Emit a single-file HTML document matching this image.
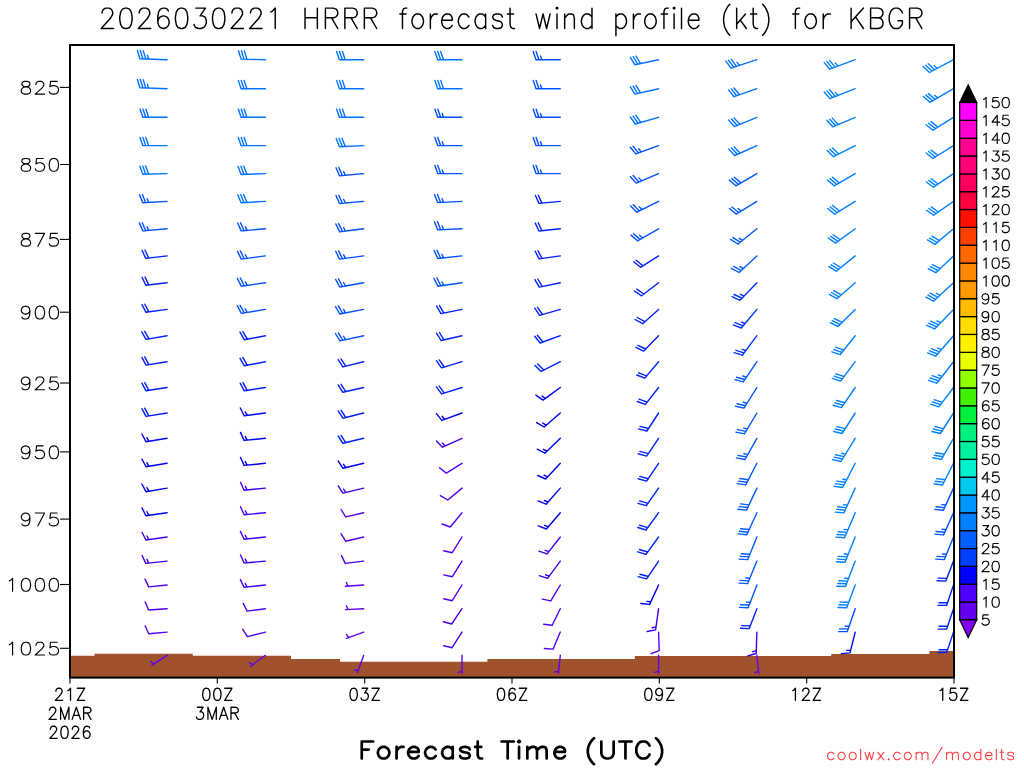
<!DOCTYPE html><html><head><meta charset="utf-8"><style>html,body{margin:0;padding:0;background:#fff;}svg{display:block;}text{font-family:"Liberation Sans",sans-serif;}</style></head><body>
<svg width="1024" height="768" viewBox="0 0 1024 768">
<rect x="0" y="0" width="1024" height="768" fill="#fff"/>
<polygon points="70,655.8 94.6,655.8 94.6,653.7 143.7,653.7 143.7,653.7 192.8,653.7 192.8,655.8 241.9,655.8 241.9,655.8 291,655.8 291,659 340.1,659 340.1,661.7 389.2,661.7 389.2,661.7 438.3,661.7 438.3,661.7 487.4,661.7 487.4,659 536.6,659 536.6,659 585.7,659 585.7,659 634.8,659 634.8,656 683.9,656 683.9,656 733,656 733,656 782.1,656 782.1,656 831.2,656 831.2,654 880.3,654 880.3,654 929.4,654 929.4,651 954,651 954,677.6 70,677.6" fill="#a0522d"/>
<path d="M167.1 59.7L139.9 58.7 M148.6 59L147.4 55.2 M145.7 58.9L143.2 50.6 M142.8 58.8L140.3 50.5 M139.9 58.7L137.4 50.4" stroke="#0072ff" stroke-width="1.4" fill="none" stroke-linecap="round" stroke-linejoin="round"/>
<path d="M167.1 88.7L139.9 87.7 M148.6 88L147.4 84.2 M145.7 87.9L143.2 79.6 M142.8 87.8L140.3 79.5 M139.9 87.7L137.4 79.4" stroke="#0072ff" stroke-width="1.4" fill="none" stroke-linecap="round" stroke-linejoin="round"/>
<path d="M167.1 117.3L142.8 117.3 M148.6 117.3L145.8 109.1 M145.7 117.3L142.9 109.1 M142.8 117.3L140 109.1" stroke="#0072ff" stroke-width="1.4" fill="none" stroke-linecap="round" stroke-linejoin="round"/>
<path d="M167.1 145.6L142.8 145.6 M148.6 145.6L145.8 137.4 M145.7 145.6L142.9 137.4 M142.8 145.6L140 137.4" stroke="#0072ff" stroke-width="1.4" fill="none" stroke-linecap="round" stroke-linejoin="round"/>
<path d="M167.1 173.6L142.8 174.3 M148.6 174.1L145.6 166 M145.7 174.2L142.7 166.1 M142.8 174.3L139.8 166.1" stroke="#0072ff" stroke-width="1.4" fill="none" stroke-linecap="round" stroke-linejoin="round"/>
<path d="M167.1 201.4L142.8 202.8 M148.6 202.5L147.1 198.8 M145.7 202.7L142.4 194.6 M142.8 202.8L139.5 194.8" stroke="#0050ff" stroke-width="1.4" fill="none" stroke-linecap="round" stroke-linejoin="round"/>
<path d="M167.1 228.8L142.9 230.9 M148.7 230.4L147 226.7 M145.8 230.7L142.2 222.7 M142.9 230.9L139.4 223" stroke="#0050ff" stroke-width="1.4" fill="none" stroke-linecap="round" stroke-linejoin="round"/>
<path d="M167.1 255.9L145.8 258.4 M148.7 258L145 250.2 M145.8 258.4L142.1 250.5" stroke="#0020ff" stroke-width="1.4" fill="none" stroke-linecap="round" stroke-linejoin="round"/>
<path d="M167.1 282.8L145.8 285.2 M148.7 284.9L145 277 M145.8 285.2L142.1 277.4" stroke="#0020ff" stroke-width="1.4" fill="none" stroke-linecap="round" stroke-linejoin="round"/>
<path d="M167.1 309.4L145.9 312.3 M148.8 311.9L144.8 304.2 M145.9 312.3L142 304.6" stroke="#0020ff" stroke-width="1.4" fill="none" stroke-linecap="round" stroke-linejoin="round"/>
<path d="M167.1 335.7L146 339.4 M148.9 338.9L144.7 331.3 M146 339.4L141.8 331.8" stroke="#0020ff" stroke-width="1.4" fill="none" stroke-linecap="round" stroke-linejoin="round"/>
<path d="M167.1 361.7L146 365.1 M148.8 364.6L144.7 356.9 M146 365.1L141.9 357.4" stroke="#0020ff" stroke-width="1.4" fill="none" stroke-linecap="round" stroke-linejoin="round"/>
<path d="M167.1 387.5L146 390.8 M148.8 390.4L144.7 382.7 M146 390.8L141.9 383.2" stroke="#0020ff" stroke-width="1.4" fill="none" stroke-linecap="round" stroke-linejoin="round"/>
<path d="M167.1 413L146 416.4 M148.8 415.9L144.7 408.2 M146 416.4L141.9 408.7" stroke="#0020ff" stroke-width="1.4" fill="none" stroke-linecap="round" stroke-linejoin="round"/>
<path d="M167.1 438.3L146 441.7 M148.8 441.2L146.9 437.7 M146 441.7L141.9 434" stroke="#0000f0" stroke-width="1.4" fill="none" stroke-linecap="round" stroke-linejoin="round"/>
<path d="M167.1 463.3L146 466.7 M148.8 466.2L146.9 462.7 M146 466.7L141.9 459" stroke="#0000f0" stroke-width="1.4" fill="none" stroke-linecap="round" stroke-linejoin="round"/>
<path d="M167.1 488.1L146 491.7 M148.9 491.2L146.9 487.7 M146 491.7L141.8 484" stroke="#0000f0" stroke-width="1.4" fill="none" stroke-linecap="round" stroke-linejoin="round"/>
<path d="M167.1 512.7L145.9 515.7 M148.8 515.3L147 511.7 M145.9 515.7L142 507.9" stroke="#0000f0" stroke-width="1.4" fill="none" stroke-linecap="round" stroke-linejoin="round"/>
<path d="M167.1 537L145.9 540 M148.8 539.6L147 536 M145.9 540L142 532.3" stroke="#4000f0" stroke-width="1.4" fill="none" stroke-linecap="round" stroke-linejoin="round"/>
<path d="M167.1 561.1L145.8 563.4 M148.7 563.1L147 559.4 M145.8 563.4L142.1 555.5" stroke="#4000f0" stroke-width="1.4" fill="none" stroke-linecap="round" stroke-linejoin="round"/>
<path d="M167.1 585L148.7 586.9 M148.7 586.9L145 579.1" stroke="#5000f0" stroke-width="1.4" fill="none" stroke-linecap="round" stroke-linejoin="round"/>
<path d="M167.1 608.7L148.6 610 M148.6 610L145.2 601.9" stroke="#5000f0" stroke-width="1.4" fill="none" stroke-linecap="round" stroke-linejoin="round"/>
<path d="M167.1 632.1L148.7 633.7 M148.7 633.7L145.1 625.8" stroke="#5000f0" stroke-width="1.4" fill="none" stroke-linecap="round" stroke-linejoin="round"/>
<path d="M167.1 655.3L151.8 665.3 M153.8 663.9L150.7 661.5" stroke="#6000f0" stroke-width="1.4" fill="none" stroke-linecap="round" stroke-linejoin="round"/>
<path d="M265.4 59.7L241.1 59.1 M246.9 59.2L244.3 50.9 M244 59.1L241.4 50.8 M241.1 59.1L238.5 50.8" stroke="#0072ff" stroke-width="1.4" fill="none" stroke-linecap="round" stroke-linejoin="round"/>
<path d="M265.4 88.7L241.1 88.7 M246.9 88.7L244.1 80.4 M244 88.7L241.2 80.4 M241.1 88.7L238.3 80.4" stroke="#0072ff" stroke-width="1.4" fill="none" stroke-linecap="round" stroke-linejoin="round"/>
<path d="M265.4 117.3L241.1 117.3 M246.9 117.3L244.1 109.1 M244 117.3L241.2 109.1 M241.1 117.3L238.3 109.1" stroke="#0072ff" stroke-width="1.4" fill="none" stroke-linecap="round" stroke-linejoin="round"/>
<path d="M265.4 145.6L241.1 145.6 M246.9 145.6L244.1 137.4 M244 145.6L241.2 137.4 M241.1 145.6L238.3 137.4" stroke="#0072ff" stroke-width="1.4" fill="none" stroke-linecap="round" stroke-linejoin="round"/>
<path d="M265.4 173.6L241.1 174.5 M246.9 174.3L243.8 166.2 M244 174.4L240.9 166.3 M241.1 174.5L238 166.4" stroke="#0072ff" stroke-width="1.4" fill="none" stroke-linecap="round" stroke-linejoin="round"/>
<path d="M265.4 201.4L241.1 202.8 M246.9 202.5L243.6 194.5 M244 202.7L240.7 194.6 M241.1 202.8L237.8 194.8" stroke="#0072ff" stroke-width="1.4" fill="none" stroke-linecap="round" stroke-linejoin="round"/>
<path d="M265.4 228.8L241.2 230.9 M247 230.4L245.3 226.7 M244.1 230.7L240.5 222.7 M241.2 230.9L237.7 223" stroke="#0050ff" stroke-width="1.4" fill="none" stroke-linecap="round" stroke-linejoin="round"/>
<path d="M265.4 255.9L241.3 259.1 M247.1 258.3L245.3 254.8 M244.2 258.7L240.3 250.9 M241.3 259.1L237.4 251.3" stroke="#0050ff" stroke-width="1.4" fill="none" stroke-linecap="round" stroke-linejoin="round"/>
<path d="M265.4 282.8L241.3 286.2 M247.1 285.4L245.3 281.8 M244.2 285.8L240.3 278 M241.3 286.2L237.4 278.4" stroke="#0050ff" stroke-width="1.4" fill="none" stroke-linecap="round" stroke-linejoin="round"/>
<path d="M265.4 309.4L241.4 313.4 M247.2 312.4L245.2 308.9 M244.3 312.9L240.1 305.3 M241.4 313.4L237.3 305.7" stroke="#0050ff" stroke-width="1.4" fill="none" stroke-linecap="round" stroke-linejoin="round"/>
<path d="M265.4 335.7L244.4 339.8 M247.2 339.2L242.9 331.7 M244.4 339.8L240 332.2" stroke="#0020ff" stroke-width="1.4" fill="none" stroke-linecap="round" stroke-linejoin="round"/>
<path d="M265.4 361.7L244.4 365.8 M247.2 365.2L242.9 357.7 M244.4 365.8L240 358.3" stroke="#0020ff" stroke-width="1.4" fill="none" stroke-linecap="round" stroke-linejoin="round"/>
<path d="M265.4 387.5L244.3 390.8 M247.1 390.4L243 382.7 M244.3 390.8L240.2 383.2" stroke="#0020ff" stroke-width="1.4" fill="none" stroke-linecap="round" stroke-linejoin="round"/>
<path d="M265.4 413L244.2 415.8 M247.1 415.4L245.3 411.9 M244.2 415.8L240.3 408" stroke="#0000f0" stroke-width="1.4" fill="none" stroke-linecap="round" stroke-linejoin="round"/>
<path d="M265.4 438.3L244.1 440.4 M247 440.1L245.3 436.4 M244.1 440.4L240.5 432.4" stroke="#0000f0" stroke-width="1.4" fill="none" stroke-linecap="round" stroke-linejoin="round"/>
<path d="M265.4 463.3L244.1 465.4 M247 465.1L245.3 461.5 M244.1 465.4L240.5 457.5" stroke="#0000f0" stroke-width="1.4" fill="none" stroke-linecap="round" stroke-linejoin="round"/>
<path d="M265.4 488.1L244.1 490.2 M247 489.9L245.3 486.3 M244.1 490.2L240.5 482.3" stroke="#4000f0" stroke-width="1.4" fill="none" stroke-linecap="round" stroke-linejoin="round"/>
<path d="M265.4 512.7L244.1 514.8 M247 514.5L245.3 510.8 M244.1 514.8L240.5 506.8" stroke="#4000f0" stroke-width="1.4" fill="none" stroke-linecap="round" stroke-linejoin="round"/>
<path d="M265.4 537L244.1 539.3 M247 539L245.3 535.3 M244.1 539.3L240.4 531.4" stroke="#4000f0" stroke-width="1.4" fill="none" stroke-linecap="round" stroke-linejoin="round"/>
<path d="M265.4 561.1L244.1 563 M247 562.7L245.3 559.1 M244.1 563L240.5 555" stroke="#4000f0" stroke-width="1.4" fill="none" stroke-linecap="round" stroke-linejoin="round"/>
<path d="M265.4 585L244.1 587.4 M247 587.1L245.3 583.5 M244.1 587.4L240.4 579.6" stroke="#4000f0" stroke-width="1.4" fill="none" stroke-linecap="round" stroke-linejoin="round"/>
<path d="M265.4 608.7L247.1 611.1 M247.1 611.1L243.2 603.3" stroke="#5000f0" stroke-width="1.4" fill="none" stroke-linecap="round" stroke-linejoin="round"/>
<path d="M265.4 632.1L247.4 636.6 M247.4 636.6L242.7 629.3" stroke="#5000f0" stroke-width="1.4" fill="none" stroke-linecap="round" stroke-linejoin="round"/>
<path d="M265.4 655.3L250.7 666.2 M252.7 664.7L249.4 662.5" stroke="#6000f0" stroke-width="1.4" fill="none" stroke-linecap="round" stroke-linejoin="round"/>
<path d="M363.7 59.7L339.4 59.7 M345.2 59.7L342.4 51.5 M342.3 59.7L339.5 51.5 M339.4 59.7L336.6 51.5" stroke="#0072ff" stroke-width="1.4" fill="none" stroke-linecap="round" stroke-linejoin="round"/>
<path d="M363.7 88.7L339.4 88.7 M345.2 88.7L342.4 80.4 M342.3 88.7L339.5 80.4 M339.4 88.7L336.6 80.4" stroke="#0072ff" stroke-width="1.4" fill="none" stroke-linecap="round" stroke-linejoin="round"/>
<path d="M363.7 117.3L339.4 117.3 M345.2 117.3L342.4 109.1 M342.3 117.3L339.5 109.1 M339.4 117.3L336.6 109.1" stroke="#0072ff" stroke-width="1.4" fill="none" stroke-linecap="round" stroke-linejoin="round"/>
<path d="M363.7 145.6L339.4 146.7 M345.2 146.4L342 138.3 M342.3 146.6L339.1 138.5 M339.4 146.7L336.2 138.6" stroke="#0072ff" stroke-width="1.4" fill="none" stroke-linecap="round" stroke-linejoin="round"/>
<path d="M363.7 173.6L339.5 175.8 M345.3 175.3L343.6 171.6 M342.4 175.5L338.8 167.6 M339.5 175.8L336 167.8" stroke="#0050ff" stroke-width="1.4" fill="none" stroke-linecap="round" stroke-linejoin="round"/>
<path d="M363.7 201.4L339.5 203.5 M345.3 203L343.6 199.3 M342.4 203.2L338.8 195.3 M339.5 203.5L336 195.5" stroke="#0050ff" stroke-width="1.4" fill="none" stroke-linecap="round" stroke-linejoin="round"/>
<path d="M363.7 228.8L339.6 231.8 M345.3 231L343.6 227.5 M342.5 231.4L338.6 223.6 M339.6 231.8L335.8 223.9" stroke="#0050ff" stroke-width="1.4" fill="none" stroke-linecap="round" stroke-linejoin="round"/>
<path d="M363.7 255.9L339.6 259.1 M345.4 258.3L343.6 254.8 M342.5 258.7L338.6 250.9 M339.6 259.1L335.7 251.3" stroke="#0050ff" stroke-width="1.4" fill="none" stroke-linecap="round" stroke-linejoin="round"/>
<path d="M363.7 282.8L339.8 287 M345.5 286L343.5 282.5 M342.6 286.5L338.4 278.9 M339.8 287L335.6 279.4" stroke="#0050ff" stroke-width="1.4" fill="none" stroke-linecap="round" stroke-linejoin="round"/>
<path d="M363.7 309.4L339.8 314 M345.5 312.9L343.5 309.4 M342.7 313.4L338.3 305.9 M339.8 314L335.5 306.5" stroke="#0050ff" stroke-width="1.4" fill="none" stroke-linecap="round" stroke-linejoin="round"/>
<path d="M363.7 335.7L340 340.9 M345.6 339.7L343.5 336.3 M342.8 340.3L338.3 332.9 M340 340.9L335.4 333.5" stroke="#0050ff" stroke-width="1.4" fill="none" stroke-linecap="round" stroke-linejoin="round"/>
<path d="M363.7 361.7L342.9 366.9 M345.7 366.2L341 358.9 M342.9 366.9L338.2 359.6" stroke="#0020ff" stroke-width="1.4" fill="none" stroke-linecap="round" stroke-linejoin="round"/>
<path d="M363.7 387.5L342.8 392.3 M345.7 391.7L341.1 384.3 M342.8 392.3L338.2 384.9" stroke="#0020ff" stroke-width="1.4" fill="none" stroke-linecap="round" stroke-linejoin="round"/>
<path d="M363.7 413L342.9 418.2 M345.7 417.5L341 410.2 M342.9 418.2L338.2 410.9" stroke="#0020ff" stroke-width="1.4" fill="none" stroke-linecap="round" stroke-linejoin="round"/>
<path d="M363.7 438.3L342.9 443.3 M345.7 442.6L341 435.3 M342.9 443.3L338.2 436" stroke="#0020ff" stroke-width="1.4" fill="none" stroke-linecap="round" stroke-linejoin="round"/>
<path d="M363.7 463.3L342.9 468.3 M345.7 467.7L343.6 464.3 M342.9 468.3L338.2 461" stroke="#0000f0" stroke-width="1.4" fill="none" stroke-linecap="round" stroke-linejoin="round"/>
<path d="M363.7 488.1L342.9 493.1 M345.7 492.5L343.6 489.1 M342.9 493.1L338.2 485.8" stroke="#4000f0" stroke-width="1.4" fill="none" stroke-linecap="round" stroke-linejoin="round"/>
<path d="M363.7 512.7L345.7 516.9 M345.7 516.9L341.1 509.5" stroke="#5000f0" stroke-width="1.4" fill="none" stroke-linecap="round" stroke-linejoin="round"/>
<path d="M363.7 537L345.7 541.2 M345.7 541.2L341.1 533.8" stroke="#5000f0" stroke-width="1.4" fill="none" stroke-linecap="round" stroke-linejoin="round"/>
<path d="M363.7 561.1L345.3 563.4 M345.3 563.4L341.5 555.6" stroke="#5000f0" stroke-width="1.4" fill="none" stroke-linecap="round" stroke-linejoin="round"/>
<path d="M363.7 585L345.4 586.3 M347.9 586.1L346.4 582.4" stroke="#6000f0" stroke-width="1.4" fill="none" stroke-linecap="round" stroke-linejoin="round"/>
<path d="M363.7 608.7L345.4 609.6 M347.9 609.5L346.4 605.8" stroke="#6000f0" stroke-width="1.4" fill="none" stroke-linecap="round" stroke-linejoin="round"/>
<path d="M363.7 632.1L346.5 638.4 M348.9 637.5L346.3 634.4" stroke="#6000f0" stroke-width="1.4" fill="none" stroke-linecap="round" stroke-linejoin="round"/>
<path d="M363.7 655.3L357.4 672.5 M358.3 670.2L354.3 670.1" stroke="#6000f0" stroke-width="1.4" fill="none" stroke-linecap="round" stroke-linejoin="round"/>
<path d="M462 59.7L437.7 59.7 M443.5 59.7L440.7 51.5 M440.6 59.7L437.8 51.5 M437.7 59.7L434.9 51.5" stroke="#0072ff" stroke-width="1.4" fill="none" stroke-linecap="round" stroke-linejoin="round"/>
<path d="M462 88.7L437.7 88.7 M443.5 88.7L440.7 80.4 M440.6 88.7L437.8 80.4 M437.7 88.7L434.9 80.4" stroke="#0072ff" stroke-width="1.4" fill="none" stroke-linecap="round" stroke-linejoin="round"/>
<path d="M462 117.3L437.7 117.3 M443.5 117.3L442.2 113.5 M440.6 117.3L437.8 109.1 M437.7 117.3L434.9 109.1" stroke="#0050ff" stroke-width="1.4" fill="none" stroke-linecap="round" stroke-linejoin="round"/>
<path d="M462 145.6L437.7 145.6 M443.5 145.6L442.2 141.8 M440.6 145.6L437.8 137.4 M437.7 145.6L434.9 137.4" stroke="#0050ff" stroke-width="1.4" fill="none" stroke-linecap="round" stroke-linejoin="round"/>
<path d="M462 173.6L437.7 173.6 M443.5 173.6L442.2 169.9 M440.6 173.6L437.8 165.4 M437.7 173.6L434.9 165.4" stroke="#0050ff" stroke-width="1.4" fill="none" stroke-linecap="round" stroke-linejoin="round"/>
<path d="M462 201.4L437.7 202.6 M443.5 202.3L442 198.6 M440.6 202.5L437.4 194.4 M437.7 202.6L434.5 194.6" stroke="#0050ff" stroke-width="1.4" fill="none" stroke-linecap="round" stroke-linejoin="round"/>
<path d="M462 228.8L437.7 229.9 M443.5 229.6L442.1 225.9 M440.6 229.7L437.4 221.6 M437.7 229.9L434.5 221.8" stroke="#0050ff" stroke-width="1.4" fill="none" stroke-linecap="round" stroke-linejoin="round"/>
<path d="M462 255.9L437.8 258.5 M443.6 257.9L441.9 254.2 M440.7 258.2L437 250.3 M437.8 258.5L434.2 250.6" stroke="#0050ff" stroke-width="1.4" fill="none" stroke-linecap="round" stroke-linejoin="round"/>
<path d="M462 282.8L437.9 286.2 M443.7 285.4L441.9 281.8 M440.8 285.8L436.9 278 M437.9 286.2L434 278.4" stroke="#0050ff" stroke-width="1.4" fill="none" stroke-linecap="round" stroke-linejoin="round"/>
<path d="M462 309.4L441 313.6 M443.9 313.1L439.5 305.6 M441 313.6L436.6 306.1" stroke="#0020ff" stroke-width="1.4" fill="none" stroke-linecap="round" stroke-linejoin="round"/>
<path d="M462 335.7L441.1 340.5 M444 339.8L439.4 332.5 M441.1 340.5L436.5 333.1" stroke="#0020ff" stroke-width="1.4" fill="none" stroke-linecap="round" stroke-linejoin="round"/>
<path d="M462 361.7L441.5 367.8 M444.3 367L439.2 359.9 M441.5 367.8L436.4 360.7" stroke="#0020ff" stroke-width="1.4" fill="none" stroke-linecap="round" stroke-linejoin="round"/>
<path d="M462 387.5L441.6 393.9 M444.4 393.1L439.2 386.1 M441.6 393.9L436.4 386.9" stroke="#0020ff" stroke-width="1.4" fill="none" stroke-linecap="round" stroke-linejoin="round"/>
<path d="M462 413L441.9 420.4 M444.6 419.4L442.1 416.3 M441.9 420.4L436.4 413.6" stroke="#0000f0" stroke-width="1.4" fill="none" stroke-linecap="round" stroke-linejoin="round"/>
<path d="M462 438.3L442.5 447.2 M445.2 446L442.4 443.1 M442.5 447.2L436.5 440.9" stroke="#4000f0" stroke-width="1.4" fill="none" stroke-linecap="round" stroke-linejoin="round"/>
<path d="M462 463.3L446.3 473.1 M446.3 473.1L439.5 467.7" stroke="#5000f0" stroke-width="1.4" fill="none" stroke-linecap="round" stroke-linejoin="round"/>
<path d="M462 488.1L447.8 500 M447.8 500L440.4 495.6" stroke="#5000f0" stroke-width="1.4" fill="none" stroke-linecap="round" stroke-linejoin="round"/>
<path d="M462 512.7L450.3 527 M450.3 527L442.1 524" stroke="#5000f0" stroke-width="1.4" fill="none" stroke-linecap="round" stroke-linejoin="round"/>
<path d="M462 537L452.2 552.7 M452.2 552.7L443.7 550.8" stroke="#5000f0" stroke-width="1.4" fill="none" stroke-linecap="round" stroke-linejoin="round"/>
<path d="M462 561.1L452.2 576.8 M452.2 576.8L443.7 574.9" stroke="#5000f0" stroke-width="1.4" fill="none" stroke-linecap="round" stroke-linejoin="round"/>
<path d="M462 585L452.2 600.7 M452.2 600.7L443.7 598.7" stroke="#5000f0" stroke-width="1.4" fill="none" stroke-linecap="round" stroke-linejoin="round"/>
<path d="M462 608.7L451.7 624 M451.7 624L443.3 621.8" stroke="#5000f0" stroke-width="1.4" fill="none" stroke-linecap="round" stroke-linejoin="round"/>
<path d="M462 632.1L452.1 647.7 M452.1 647.7L443.6 645.7" stroke="#5000f0" stroke-width="1.4" fill="none" stroke-linecap="round" stroke-linejoin="round"/>
<path d="M462 655.3L462 673.6 M462 671.1L458.2 672.4" stroke="#6000f0" stroke-width="1.4" fill="none" stroke-linecap="round" stroke-linejoin="round"/>
<path d="M560.3 59.7L536 59.7 M541.8 59.7L540.5 55.9 M538.9 59.7L536.1 51.5 M536 59.7L533.2 51.5" stroke="#0050ff" stroke-width="1.4" fill="none" stroke-linecap="round" stroke-linejoin="round"/>
<path d="M560.3 88.7L536 88.7 M541.8 88.7L540.5 84.9 M538.9 88.7L536.1 80.4 M536 88.7L533.2 80.4" stroke="#0050ff" stroke-width="1.4" fill="none" stroke-linecap="round" stroke-linejoin="round"/>
<path d="M560.3 117.3L536 117.3 M541.8 117.3L540.5 113.5 M538.9 117.3L536.1 109.1 M536 117.3L533.2 109.1" stroke="#0050ff" stroke-width="1.4" fill="none" stroke-linecap="round" stroke-linejoin="round"/>
<path d="M560.3 145.6L536 145.6 M541.8 145.6L540.5 141.8 M538.9 145.6L536.1 137.4 M536 145.6L533.2 137.4" stroke="#0050ff" stroke-width="1.4" fill="none" stroke-linecap="round" stroke-linejoin="round"/>
<path d="M560.3 173.6L536 173.6 M541.8 173.6L540.5 169.9 M538.9 173.6L536.1 165.4 M536 173.6L533.2 165.4" stroke="#0050ff" stroke-width="1.4" fill="none" stroke-linecap="round" stroke-linejoin="round"/>
<path d="M560.3 201.4L539 203.4 M541.9 203.1L538.3 195.2 M539 203.4L535.4 195.5" stroke="#0020ff" stroke-width="1.4" fill="none" stroke-linecap="round" stroke-linejoin="round"/>
<path d="M560.3 228.8L539 231 M541.9 230.7L538.2 222.8 M539 231L535.3 223.1" stroke="#0020ff" stroke-width="1.4" fill="none" stroke-linecap="round" stroke-linejoin="round"/>
<path d="M560.3 255.9L539.1 258.9 M542 258.5L538 250.8 M539.1 258.9L535.2 251.2" stroke="#0020ff" stroke-width="1.4" fill="none" stroke-linecap="round" stroke-linejoin="round"/>
<path d="M560.3 282.8L539.3 287.1 M542.2 286.5L537.8 279 M539.3 287.1L534.9 279.6" stroke="#0020ff" stroke-width="1.4" fill="none" stroke-linecap="round" stroke-linejoin="round"/>
<path d="M560.3 309.4L539.7 315.3 M542.5 314.5L537.5 307.3 M539.7 315.3L534.7 308.1" stroke="#0020ff" stroke-width="1.4" fill="none" stroke-linecap="round" stroke-linejoin="round"/>
<path d="M560.3 335.7L540.2 343 M542.9 342L537.4 335.2 M540.2 343L534.7 336.2" stroke="#0020ff" stroke-width="1.4" fill="none" stroke-linecap="round" stroke-linejoin="round"/>
<path d="M560.3 361.7L541.2 371.4 M543.8 370.1L537.6 364.1 M541.2 371.4L535 365.4" stroke="#0020ff" stroke-width="1.4" fill="none" stroke-linecap="round" stroke-linejoin="round"/>
<path d="M560.3 387.5L543 400.1 M545.3 398.4L542.1 396.1 M543 400.1L535.9 395.1" stroke="#0000f0" stroke-width="1.4" fill="none" stroke-linecap="round" stroke-linejoin="round"/>
<path d="M560.3 413L544.1 427 M546.3 425.1L542.8 423.1 M544.1 427L536.6 422.6" stroke="#0000f0" stroke-width="1.4" fill="none" stroke-linecap="round" stroke-linejoin="round"/>
<path d="M560.3 438.3L544.9 453.2 M547 451.2L543.4 449.3 M544.9 453.2L537.2 449.2" stroke="#0000f0" stroke-width="1.4" fill="none" stroke-linecap="round" stroke-linejoin="round"/>
<path d="M560.3 463.3L545.7 479 M547.7 476.9L544 475.2 M545.7 479L537.8 475.5" stroke="#0000f0" stroke-width="1.4" fill="none" stroke-linecap="round" stroke-linejoin="round"/>
<path d="M560.3 488.1L546.1 504.2 M548.1 502L544.4 500.5 M546.1 504.2L538.1 500.9" stroke="#0000f0" stroke-width="1.4" fill="none" stroke-linecap="round" stroke-linejoin="round"/>
<path d="M560.3 512.7L546.4 529 M548.3 526.8L544.6 525.3 M546.4 529L538.3 525.8" stroke="#0000f0" stroke-width="1.4" fill="none" stroke-linecap="round" stroke-linejoin="round"/>
<path d="M560.3 537L547.1 553.9 M548.9 551.6L545.1 550.3 M547.1 553.9L538.9 551.1" stroke="#4000f0" stroke-width="1.4" fill="none" stroke-linecap="round" stroke-linejoin="round"/>
<path d="M560.3 561.1L547.5 578.3 M549.3 576L545.5 574.8 M547.5 578.3L539.2 575.7" stroke="#4000f0" stroke-width="1.4" fill="none" stroke-linecap="round" stroke-linejoin="round"/>
<path d="M560.3 585L550.8 600.9 M550.8 600.9L542.3 599.1" stroke="#5000f0" stroke-width="1.4" fill="none" stroke-linecap="round" stroke-linejoin="round"/>
<path d="M560.3 608.7L552.2 625.3 M552.2 625.3L543.6 624.2" stroke="#5000f0" stroke-width="1.4" fill="none" stroke-linecap="round" stroke-linejoin="round"/>
<path d="M560.3 632.1L553.1 649.1 M553.1 649.1L544.4 648.5" stroke="#5000f0" stroke-width="1.4" fill="none" stroke-linecap="round" stroke-linejoin="round"/>
<path d="M560.3 655.3L558.4 673.5 M558.6 671.1L554.8 672" stroke="#6000f0" stroke-width="1.4" fill="none" stroke-linecap="round" stroke-linejoin="round"/>
<path d="M658.6 59.7L634.8 64.7 M640.5 63.5L636 56.1 M637.7 64.1L633.2 56.7 M634.8 64.7L630.4 57.3" stroke="#0072ff" stroke-width="1.4" fill="none" stroke-linecap="round" stroke-linejoin="round"/>
<path d="M658.6 88.7L634.9 94.1 M640.6 92.8L636 85.4 M637.7 93.5L633.1 86.1 M634.9 94.1L630.3 86.7" stroke="#0072ff" stroke-width="1.4" fill="none" stroke-linecap="round" stroke-linejoin="round"/>
<path d="M658.6 117.3L635.2 124 M640.8 122.4L635.8 115.3 M638 123.2L633 116.1 M635.2 124L630.3 116.9" stroke="#0072ff" stroke-width="1.4" fill="none" stroke-linecap="round" stroke-linejoin="round"/>
<path d="M658.6 145.6L635.8 153.9 M641.2 152L638.7 148.8 M638.5 152.9L633 146.2 M635.8 153.9L630.3 147.2" stroke="#0050ff" stroke-width="1.4" fill="none" stroke-linecap="round" stroke-linejoin="round"/>
<path d="M658.6 173.6L636.2 183.1 M641.6 180.9L638.9 177.9 M638.9 182L633.1 175.5 M636.2 183.1L630.4 176.7" stroke="#0050ff" stroke-width="1.4" fill="none" stroke-linecap="round" stroke-linejoin="round"/>
<path d="M658.6 201.4L636.9 212.2 M642 209.6L639.2 206.8 M639.4 210.9L633.2 204.8 M636.9 212.2L630.6 206.1" stroke="#0050ff" stroke-width="1.4" fill="none" stroke-linecap="round" stroke-linejoin="round"/>
<path d="M658.6 228.8L637.5 240.8 M642.5 238L639.5 235.3 M640 239.4L633.5 233.7 M637.5 240.8L631 235.1" stroke="#0050ff" stroke-width="1.4" fill="none" stroke-linecap="round" stroke-linejoin="round"/>
<path d="M658.6 255.9L640.5 267.3 M642.9 265.7L636.1 260.3 M640.5 267.3L633.7 261.8" stroke="#0020ff" stroke-width="1.4" fill="none" stroke-linecap="round" stroke-linejoin="round"/>
<path d="M658.6 282.8L641.6 295.8 M643.9 294L636.7 289.2 M641.6 295.8L634.4 291" stroke="#0020ff" stroke-width="1.4" fill="none" stroke-linecap="round" stroke-linejoin="round"/>
<path d="M658.6 309.4L642.7 323.7 M644.9 321.7L637.2 317.5 M642.7 323.7L635.1 319.5" stroke="#0020ff" stroke-width="1.4" fill="none" stroke-linecap="round" stroke-linejoin="round"/>
<path d="M658.6 335.7L643.7 351.1 M645.7 349L637.9 345.3 M643.7 351.1L635.8 347.4" stroke="#0020ff" stroke-width="1.4" fill="none" stroke-linecap="round" stroke-linejoin="round"/>
<path d="M658.6 361.7L644.8 378.1 M646.7 375.9L638.6 372.8 M644.8 378.1L636.7 375" stroke="#0020ff" stroke-width="1.4" fill="none" stroke-linecap="round" stroke-linejoin="round"/>
<path d="M658.6 387.5L645.4 404.4 M647.2 402.1L639 399.2 M645.4 404.4L637.2 401.5" stroke="#0020ff" stroke-width="1.4" fill="none" stroke-linecap="round" stroke-linejoin="round"/>
<path d="M658.6 413L646.9 431 M648.5 428.5L640.1 426.4 M646.9 431L638.5 428.9" stroke="#0020ff" stroke-width="1.4" fill="none" stroke-linecap="round" stroke-linejoin="round"/>
<path d="M658.6 438.3L646.6 456.1 M648.3 453.6L639.9 451.4 M646.6 456.1L638.2 453.8" stroke="#0020ff" stroke-width="1.4" fill="none" stroke-linecap="round" stroke-linejoin="round"/>
<path d="M658.6 463.3L646.6 481.1 M648.3 478.7L639.9 476.4 M646.6 481.1L638.2 478.8" stroke="#0020ff" stroke-width="1.4" fill="none" stroke-linecap="round" stroke-linejoin="round"/>
<path d="M658.6 488.1L646.3 505.7 M648 503.3L639.6 500.9 M646.3 505.7L638 503.3" stroke="#0020ff" stroke-width="1.4" fill="none" stroke-linecap="round" stroke-linejoin="round"/>
<path d="M658.6 512.7L646 530 M647.7 527.7L639.4 525.1 M646 530L637.7 527.5" stroke="#0020ff" stroke-width="1.4" fill="none" stroke-linecap="round" stroke-linejoin="round"/>
<path d="M658.6 537L646 554.3 M647.7 552L639.4 549.5 M646 554.3L637.7 551.8" stroke="#0020ff" stroke-width="1.4" fill="none" stroke-linecap="round" stroke-linejoin="round"/>
<path d="M658.6 561.1L646.6 578.9 M648.3 576.5L639.9 574.2 M646.6 578.9L638.2 576.6" stroke="#0020ff" stroke-width="1.4" fill="none" stroke-linecap="round" stroke-linejoin="round"/>
<path d="M658.6 585L649.6 604.4 M650.8 601.8L646.8 601.4 M649.6 604.4L640.9 603.5" stroke="#0000f0" stroke-width="1.4" fill="none" stroke-linecap="round" stroke-linejoin="round"/>
<path d="M658.6 608.7L655.6 629.9 M656 627L652.1 627.7 M655.6 629.9L647.1 631.5" stroke="#4000f0" stroke-width="1.4" fill="none" stroke-linecap="round" stroke-linejoin="round"/>
<path d="M658.6 632.1L659.2 650.6 M659.2 650.6L651.1 653.7" stroke="#5000f0" stroke-width="1.4" fill="none" stroke-linecap="round" stroke-linejoin="round"/>
<path d="M658.6 655.3L658.6 673.6 M658.6 671.1L654.8 672.4" stroke="#6000f0" stroke-width="1.4" fill="none" stroke-linecap="round" stroke-linejoin="round"/>
<path d="M756.9 59.7L731 68.1 M739.3 65.4L736.9 62.2 M736.5 66.3L731.3 59.4 M733.8 67.2L728.6 60.3 M731 68.1L725.8 61.1" stroke="#0072ff" stroke-width="1.4" fill="none" stroke-linecap="round" stroke-linejoin="round"/>
<path d="M756.9 88.7L734 96.7 M739.5 94.8L734 88 M736.7 95.8L731.3 88.9 M734 96.7L728.6 89.9" stroke="#0072ff" stroke-width="1.4" fill="none" stroke-linecap="round" stroke-linejoin="round"/>
<path d="M756.9 117.3L734.4 126.6 M739.8 124.4L734 117.9 M737.1 125.5L731.4 119 M734.4 126.6L728.7 120.1" stroke="#0072ff" stroke-width="1.4" fill="none" stroke-linecap="round" stroke-linejoin="round"/>
<path d="M756.9 145.6L734.7 155.5 M740 153.1L734.1 146.8 M737.4 154.3L731.4 148 M734.7 155.5L728.8 149.1" stroke="#0072ff" stroke-width="1.4" fill="none" stroke-linecap="round" stroke-linejoin="round"/>
<path d="M756.9 173.6L735.9 185.8 M740.9 182.9L734.3 177.2 M738.4 184.3L731.8 178.6 M735.9 185.8L729.3 180.1" stroke="#0058ff" stroke-width="1.4" fill="none" stroke-linecap="round" stroke-linejoin="round"/>
<path d="M756.9 201.4L736.2 214.1 M741.1 211L738 208.5 M738.7 212.5L731.9 207 M736.2 214.1L729.5 208.5" stroke="#0058ff" stroke-width="1.4" fill="none" stroke-linecap="round" stroke-linejoin="round"/>
<path d="M756.9 228.8L738 244 M742.5 240.4L739.1 238.3 M740.2 242.2L732.9 237.6 M738 244L730.6 239.4" stroke="#0058ff" stroke-width="1.4" fill="none" stroke-linecap="round" stroke-linejoin="round"/>
<path d="M756.9 255.9L739.1 272.5 M743.4 268.5L739.8 266.7 M741.2 270.5L733.6 266.4 M739.1 272.5L731.4 268.4" stroke="#0058ff" stroke-width="1.4" fill="none" stroke-linecap="round" stroke-linejoin="round"/>
<path d="M756.9 282.8L740 300.3 M744 296.1L740.4 294.4 M742 298.2L734.1 294.5 M740 300.3L732.1 296.6" stroke="#0030ff" stroke-width="1.4" fill="none" stroke-linecap="round" stroke-linejoin="round"/>
<path d="M756.9 309.4L741.3 328 M745 323.5L741.3 322.1 M743.1 325.8L735 322.6 M741.3 328L733.2 324.9" stroke="#0030ff" stroke-width="1.4" fill="none" stroke-linecap="round" stroke-linejoin="round"/>
<path d="M756.9 335.7L742.4 355.2 M745.9 350.5L742.1 349.3 M744.2 352.9L735.9 350.3 M742.4 355.2L734.1 352.6" stroke="#0030ff" stroke-width="1.4" fill="none" stroke-linecap="round" stroke-linejoin="round"/>
<path d="M756.9 361.7L743.3 381.9 M746.6 377.1L742.7 376 M744.9 379.5L736.5 377.2 M743.3 381.9L734.9 379.6" stroke="#0058ff" stroke-width="1.4" fill="none" stroke-linecap="round" stroke-linejoin="round"/>
<path d="M756.9 387.5L744 408.1 M747.1 403.2L743.2 402.3 M745.6 405.7L737.1 403.7 M744 408.1L735.5 406.2" stroke="#0058ff" stroke-width="1.4" fill="none" stroke-linecap="round" stroke-linejoin="round"/>
<path d="M756.9 413L744.4 433.9 M747.4 428.9L743.5 428.1 M745.9 431.4L737.4 429.6 M744.4 433.9L735.9 432.1" stroke="#0058ff" stroke-width="1.4" fill="none" stroke-linecap="round" stroke-linejoin="round"/>
<path d="M756.9 438.3L745 459.5 M747.8 454.4L743.9 453.7 M746.4 457L737.9 455.4 M745 459.5L736.4 457.9" stroke="#0058ff" stroke-width="1.4" fill="none" stroke-linecap="round" stroke-linejoin="round"/>
<path d="M756.9 463.3L745.7 484.9 M748.4 479.8L739.8 478.5 M747.1 482.3L738.4 481.1 M745.7 484.9L737.1 483.6" stroke="#0058ff" stroke-width="1.4" fill="none" stroke-linecap="round" stroke-linejoin="round"/>
<path d="M756.9 488.1L746.6 510.1 M749 504.9L740.4 503.9 M747.8 507.5L739.1 506.6 M746.6 510.1L737.9 509.2" stroke="#0058ff" stroke-width="1.4" fill="none" stroke-linecap="round" stroke-linejoin="round"/>
<path d="M756.9 512.7L746.8 534.8 M749.2 529.5L740.5 528.7 M748 532.2L739.3 531.3 M746.8 534.8L738.1 533.9" stroke="#0058ff" stroke-width="1.4" fill="none" stroke-linecap="round" stroke-linejoin="round"/>
<path d="M756.9 537L747.8 559.6 M750 554.2L741.3 553.7 M748.9 556.9L740.2 556.4 M747.8 559.6L739.1 559.1" stroke="#0058ff" stroke-width="1.4" fill="none" stroke-linecap="round" stroke-linejoin="round"/>
<path d="M756.9 561.1L747.7 583.6 M749.9 578.2L745.9 578 M748.8 580.9L740.1 580.4 M747.7 583.6L739 583.1" stroke="#0058ff" stroke-width="1.4" fill="none" stroke-linecap="round" stroke-linejoin="round"/>
<path d="M756.9 585L748.2 607.7 M750.3 602.3L746.3 602.1 M749.2 605L740.5 604.7 M748.2 607.7L739.5 607.4" stroke="#0058ff" stroke-width="1.4" fill="none" stroke-linecap="round" stroke-linejoin="round"/>
<path d="M756.9 608.7L749.2 628.6 M750.3 625.9L741.6 625.6 M749.2 628.6L740.5 628.3" stroke="#0020ff" stroke-width="1.4" fill="none" stroke-linecap="round" stroke-linejoin="round"/>
<path d="M756.9 632.1L756.2 653.5 M756.3 650.6L752.4 651.8 M756.2 653.5L747.8 656" stroke="#4000f0" stroke-width="1.4" fill="none" stroke-linecap="round" stroke-linejoin="round"/>
<path d="M756.9 655.3L758.8 673.5 M758.6 671.1L754.9 672.7" stroke="#6000f0" stroke-width="1.4" fill="none" stroke-linecap="round" stroke-linejoin="round"/>
<path d="M855.2 59.7L829.7 69.2 M837.9 66.1L835.3 63 M835.1 67.1L829.6 60.4 M832.4 68.2L826.9 61.4 M829.7 69.2L824.2 62.4" stroke="#0080ff" stroke-width="1.4" fill="none" stroke-linecap="round" stroke-linejoin="round"/>
<path d="M855.2 88.7L829.9 98.6 M838 95.4L835.4 92.4 M835.3 96.5L829.6 89.8 M832.6 97.5L826.9 90.9 M829.9 98.6L824.2 92" stroke="#0080ff" stroke-width="1.4" fill="none" stroke-linecap="round" stroke-linejoin="round"/>
<path d="M855.2 117.3L832.8 126.8 M838.2 124.5L832.3 118.1 M835.5 125.7L829.7 119.2 M832.8 126.8L827 120.3" stroke="#0080ff" stroke-width="1.4" fill="none" stroke-linecap="round" stroke-linejoin="round"/>
<path d="M855.2 145.6L833.5 156.7 M838.7 154L832.5 148 M836.1 155.3L829.9 149.3 M833.5 156.7L827.3 150.6" stroke="#0080ff" stroke-width="1.4" fill="none" stroke-linecap="round" stroke-linejoin="round"/>
<path d="M855.2 173.6L834.2 185.8 M839.2 182.9L832.6 177.2 M836.7 184.3L830.1 178.6 M834.2 185.8L827.6 180.1" stroke="#0080ff" stroke-width="1.4" fill="none" stroke-linecap="round" stroke-linejoin="round"/>
<path d="M855.2 201.4L834.5 214.1 M839.4 211L832.7 205.5 M837 212.5L830.2 207 M834.5 214.1L827.8 208.5" stroke="#0080ff" stroke-width="1.4" fill="none" stroke-linecap="round" stroke-linejoin="round"/>
<path d="M855.2 228.8L835.5 243.1 M840.2 239.7L833.1 234.7 M837.9 241.4L830.8 236.4 M835.5 243.1L828.4 238.1" stroke="#0080ff" stroke-width="1.4" fill="none" stroke-linecap="round" stroke-linejoin="round"/>
<path d="M855.2 255.9L836.3 271.2 M840.8 267.6L833.4 263 M838.6 269.4L831.2 264.8 M836.3 271.2L828.9 266.6" stroke="#0080ff" stroke-width="1.4" fill="none" stroke-linecap="round" stroke-linejoin="round"/>
<path d="M855.2 282.8L836.9 298.7 M841.2 294.9L833.7 290.6 M839 296.8L831.5 292.5 M836.9 298.7L829.3 294.4" stroke="#0080ff" stroke-width="1.4" fill="none" stroke-linecap="round" stroke-linejoin="round"/>
<path d="M855.2 309.4L838 326.5 M842.1 322.4L834.3 318.6 M840.1 324.5L832.2 320.7 M838 326.5L830.2 322.7" stroke="#0080ff" stroke-width="1.4" fill="none" stroke-linecap="round" stroke-linejoin="round"/>
<path d="M855.2 335.7L840.1 354.7 M843.7 350.2L835.5 347.2 M841.9 352.4L833.7 349.5 M840.1 354.7L831.9 351.8" stroke="#0080ff" stroke-width="1.4" fill="none" stroke-linecap="round" stroke-linejoin="round"/>
<path d="M855.2 361.7L840.6 381.1 M844.1 376.5L835.8 373.8 M842.3 378.8L834 376.1 M840.6 381.1L832.3 378.4" stroke="#0080ff" stroke-width="1.4" fill="none" stroke-linecap="round" stroke-linejoin="round"/>
<path d="M855.2 387.5L841.5 407.6 M844.8 402.8L836.4 400.5 M843.2 405.2L834.8 402.9 M841.5 407.6L833.1 405.3" stroke="#0080ff" stroke-width="1.4" fill="none" stroke-linecap="round" stroke-linejoin="round"/>
<path d="M855.2 413L842.1 433.5 M845.3 428.6L836.8 426.6 M843.7 431.1L835.2 429 M842.1 433.5L833.7 431.5" stroke="#0080ff" stroke-width="1.4" fill="none" stroke-linecap="round" stroke-linejoin="round"/>
<path d="M855.2 438.3L841 461.5 M845.5 454.1L841.6 453.2 M844 456.6L835.5 454.7 M842.5 459L834 457.1 M841 461.5L832.5 459.6" stroke="#0080ff" stroke-width="1.4" fill="none" stroke-linecap="round" stroke-linejoin="round"/>
<path d="M855.2 463.3L842.7 487.5 M846.7 479.8L842.7 479.2 M845.4 482.3L836.7 481.1 M844 484.9L835.4 483.6 M842.7 487.5L834.1 486.2" stroke="#0080ff" stroke-width="1.4" fill="none" stroke-linecap="round" stroke-linejoin="round"/>
<path d="M855.2 488.1L843.9 512.9 M847.5 505L843.5 504.6 M846.3 507.6L837.7 506.8 M845.1 510.3L836.5 509.4 M843.9 512.9L835.3 512.1" stroke="#0080ff" stroke-width="1.4" fill="none" stroke-linecap="round" stroke-linejoin="round"/>
<path d="M855.2 512.7L844.6 537.7 M848 529.7L844 529.4 M846.8 532.4L838.2 531.8 M845.7 535.1L837 534.5 M844.6 537.7L835.9 537.1" stroke="#0080ff" stroke-width="1.4" fill="none" stroke-linecap="round" stroke-linejoin="round"/>
<path d="M855.2 537L845 562.2 M848.3 554.2L844.3 554 M847.2 556.9L838.5 556.4 M846.1 559.6L837.4 559.1 M845 562.2L836.3 561.8" stroke="#0080ff" stroke-width="1.4" fill="none" stroke-linecap="round" stroke-linejoin="round"/>
<path d="M855.2 561.1L845.5 586.5 M848.6 578.4L844.6 578.3 M847.5 581.1L838.8 580.8 M846.5 583.8L837.8 583.5 M845.5 586.5L836.8 586.2" stroke="#0080ff" stroke-width="1.4" fill="none" stroke-linecap="round" stroke-linejoin="round"/>
<path d="M855.2 585L846.7 607.8 M848.7 602.3L840 602.1 M847.7 605.1L839 604.8 M846.7 607.8L838 607.5" stroke="#0080ff" stroke-width="1.4" fill="none" stroke-linecap="round" stroke-linejoin="round"/>
<path d="M855.2 608.7L847.3 631.6 M849.2 626.2L845.2 626.2 M848.2 628.9L839.5 628.9 M847.3 631.6L838.6 631.6" stroke="#0050ff" stroke-width="1.4" fill="none" stroke-linecap="round" stroke-linejoin="round"/>
<path d="M855.2 632.1L850 652.9 M850.7 650.1L846.7 650.4 M850 652.9L841.4 653.6" stroke="#0000f0" stroke-width="1.4" fill="none" stroke-linecap="round" stroke-linejoin="round"/>
<path d="M953.5 59.7L929.5 72.5 M937.2 68.4L934.2 65.6 M934.6 69.7L928.2 63.8 M932 71.1L925.7 65.2 M929.5 72.5L923.1 66.5" stroke="#0080ff" stroke-width="1.4" fill="none" stroke-linecap="round" stroke-linejoin="round"/>
<path d="M953.5 88.7L929.9 102.3 M937.5 97.9L934.5 95.3 M935 99.4L928.4 93.6 M932.5 100.8L925.9 95.1 M929.9 102.3L923.4 96.5" stroke="#0080ff" stroke-width="1.4" fill="none" stroke-linecap="round" stroke-linejoin="round"/>
<path d="M953.5 117.3L932.9 130.2 M937.8 127.1L931 121.6 M935.4 128.6L928.6 123.2 M932.9 130.2L926.1 124.7" stroke="#0080ff" stroke-width="1.4" fill="none" stroke-linecap="round" stroke-linejoin="round"/>
<path d="M953.5 145.6L932.9 158.5 M937.8 155.4L931 150 M935.4 157L928.6 151.5 M932.9 158.5L926.1 153" stroke="#0080ff" stroke-width="1.4" fill="none" stroke-linecap="round" stroke-linejoin="round"/>
<path d="M953.5 173.6L933.4 187.2 M938.2 184L931.2 178.8 M935.8 185.6L928.8 180.4 M933.4 187.2L926.4 182" stroke="#0080ff" stroke-width="1.4" fill="none" stroke-linecap="round" stroke-linejoin="round"/>
<path d="M953.5 201.4L933.6 215.3 M938.3 212L931.3 206.9 M936 213.6L928.9 208.5 M933.6 215.3L926.6 210.2" stroke="#0080ff" stroke-width="1.4" fill="none" stroke-linecap="round" stroke-linejoin="round"/>
<path d="M953.5 228.8L934.9 244.4 M939.3 240.7L931.9 236.2 M937.1 242.5L929.6 238.1 M934.9 244.4L927.4 239.9" stroke="#0080ff" stroke-width="1.4" fill="none" stroke-linecap="round" stroke-linejoin="round"/>
<path d="M953.5 255.9L935.9 272.7 M940.1 268.7L932.4 264.7 M938 270.7L930.3 266.7 M935.9 272.7L928.2 268.7" stroke="#0080ff" stroke-width="1.4" fill="none" stroke-linecap="round" stroke-linejoin="round"/>
<path d="M953.5 282.8L933.5 301.2 M939.9 295.3L936.4 293.4 M937.8 297.3L930.1 293.2 M935.6 299.3L928 295.1 M933.5 301.2L925.9 297.1" stroke="#0080ff" stroke-width="1.4" fill="none" stroke-linecap="round" stroke-linejoin="round"/>
<path d="M953.5 309.4L934.6 328.9 M940.6 322.7L937 321 M938.6 324.8L930.7 321.1 M936.6 326.8L928.7 323.2 M934.6 328.9L926.7 325.3" stroke="#0080ff" stroke-width="1.4" fill="none" stroke-linecap="round" stroke-linejoin="round"/>
<path d="M953.5 335.7L935.7 356.2 M941.4 349.6L937.7 348.1 M939.5 351.8L931.4 348.6 M937.6 354L929.5 350.8 M935.7 356.2L927.6 352.9" stroke="#0080ff" stroke-width="1.4" fill="none" stroke-linecap="round" stroke-linejoin="round"/>
<path d="M953.5 361.7L936.8 383.2 M942.1 376.3L938.3 375 M940.3 378.6L932.1 375.7 M938.5 380.9L930.3 378 M936.8 383.2L928.5 380.3" stroke="#0080ff" stroke-width="1.4" fill="none" stroke-linecap="round" stroke-linejoin="round"/>
<path d="M953.5 387.5L938.9 406.9 M942.4 402.3L934.1 399.6 M940.6 404.6L932.3 401.9 M938.9 406.9L930.6 404.2" stroke="#0080ff" stroke-width="1.4" fill="none" stroke-linecap="round" stroke-linejoin="round"/>
<path d="M953.5 413L940.4 433.5 M943.5 428.6L935.1 426.6 M942 431.1L933.5 429 M940.4 433.5L932 431.5" stroke="#0080ff" stroke-width="1.4" fill="none" stroke-linecap="round" stroke-linejoin="round"/>
<path d="M953.5 438.3L941.4 459.4 M944.2 454.3L935.7 452.7 M942.8 456.8L934.3 455.2 M941.4 459.4L932.8 457.7" stroke="#0080ff" stroke-width="1.4" fill="none" stroke-linecap="round" stroke-linejoin="round"/>
<path d="M953.5 463.3L942.5 485 M945.1 479.8L936.5 478.6 M943.8 482.4L935.2 481.2 M942.5 485L933.9 483.8" stroke="#0080ff" stroke-width="1.4" fill="none" stroke-linecap="round" stroke-linejoin="round"/>
<path d="M953.5 488.1L943.4 510.3 M945.8 505L941.8 504.6 M944.6 507.6L936 506.8 M943.4 510.3L934.8 509.4" stroke="#0050ff" stroke-width="1.4" fill="none" stroke-linecap="round" stroke-linejoin="round"/>
<path d="M953.5 512.7L943.6 534.9 M946 529.6L942 529.3 M944.8 532.2L936.1 531.5 M943.6 534.9L934.9 534.1" stroke="#0050ff" stroke-width="1.4" fill="none" stroke-linecap="round" stroke-linejoin="round"/>
<path d="M953.5 537L944.4 559.6 M946.6 554.2L942.6 554 M945.5 556.9L936.8 556.4 M944.4 559.6L935.7 559.1" stroke="#0050ff" stroke-width="1.4" fill="none" stroke-linecap="round" stroke-linejoin="round"/>
<path d="M953.5 561.1L945.8 581.1 M946.9 578.4L938.2 578.1 M945.8 581.1L937.1 580.8" stroke="#0020ff" stroke-width="1.4" fill="none" stroke-linecap="round" stroke-linejoin="round"/>
<path d="M953.5 585L946.7 605.3 M947.7 602.6L939 602.7 M946.7 605.3L938 605.4" stroke="#0020ff" stroke-width="1.4" fill="none" stroke-linecap="round" stroke-linejoin="round"/>
<path d="M953.5 608.7L946.7 629 M947.7 626.2L939 626.3 M946.7 629L938 629.1" stroke="#0020ff" stroke-width="1.4" fill="none" stroke-linecap="round" stroke-linejoin="round"/>
<path d="M953.5 632.1L946.7 652.4 M947.7 649.7L939 649.8 M946.7 652.4L938 652.5" stroke="#0020ff" stroke-width="1.4" fill="none" stroke-linecap="round" stroke-linejoin="round"/>
<rect x="70" y="45" width="884" height="632.6" fill="none" stroke="#000" stroke-width="2"/>
<path d="M60 87.4H70" stroke="#000" stroke-width="1.1"/>
<path d="M24.59 81.34L22.6 81.95L21.93 83.17L21.93 84.39L22.6 85.61L23.92 86.22L26.58 86.83L28.57 87.44L29.9 88.66L30.57 89.88L30.57 91.71L29.9 92.93L29.24 93.54L27.24 94.15L24.59 94.15L22.6 93.54L21.93 92.93L21.27 91.71L21.27 89.88L21.93 88.66L23.26 87.44L25.25 86.83L27.91 86.22L29.24 85.61L29.9 84.39L29.9 83.17L29.24 81.95L27.24 81.34L24.59 81.34M35.91 84.39L35.91 83.78L36.58 82.56L37.24 81.95L38.57 81.34L41.22 81.34L42.55 81.95L43.22 82.56L43.88 83.78L43.88 85L43.22 86.22L41.89 88.05L35.25 94.15L44.55 94.15M57.2 81.34L50.56 81.34L49.89 86.83L50.56 86.22L52.55 85.61L54.54 85.61L56.53 86.22L57.86 87.44L58.52 89.27L58.52 90.49L57.86 92.32L56.53 93.54L54.54 94.15L52.55 94.15L50.56 93.54L49.89 92.93L49.23 91.71" stroke="#000" stroke-width="1.15" fill="none" stroke-linecap="round" stroke-linejoin="round"/>
<path d="M60 164.5H70" stroke="#000" stroke-width="1.1"/>
<path d="M24.59 158.48L22.6 159.09L21.93 160.31L21.93 161.53L22.6 162.75L23.92 163.36L26.58 163.97L28.57 164.58L29.9 165.8L30.57 167.02L30.57 168.85L29.9 170.07L29.24 170.68L27.24 171.29L24.59 171.29L22.6 170.68L21.93 170.07L21.27 168.85L21.27 167.02L21.93 165.8L23.26 164.58L25.25 163.97L27.91 163.36L29.24 162.75L29.9 161.53L29.9 160.31L29.24 159.09L27.24 158.48L24.59 158.48M43.22 158.48L36.58 158.48L35.91 163.97L36.58 163.36L38.57 162.75L40.56 162.75L42.55 163.36L43.88 164.58L44.55 166.41L44.55 167.63L43.88 169.46L42.55 170.68L40.56 171.29L38.57 171.29L36.58 170.68L35.91 170.07L35.25 168.85M53.21 158.48L51.22 159.09L49.89 160.92L49.23 163.97L49.23 165.8L49.89 168.85L51.22 170.68L53.21 171.29L54.54 171.29L56.53 170.68L57.86 168.85L58.52 165.8L58.52 163.97L57.86 160.92L56.53 159.09L54.54 158.48L53.21 158.48" stroke="#000" stroke-width="1.15" fill="none" stroke-linecap="round" stroke-linejoin="round"/>
<path d="M60 239.4H70" stroke="#000" stroke-width="1.1"/>
<path d="M24.59 233.38L22.6 233.99L21.93 235.21L21.93 236.43L22.6 237.65L23.92 238.26L26.58 238.87L28.57 239.48L29.9 240.7L30.57 241.92L30.57 243.75L29.9 244.97L29.24 245.58L27.24 246.19L24.59 246.19L22.6 245.58L21.93 244.97L21.27 243.75L21.27 241.92L21.93 240.7L23.26 239.48L25.25 238.87L27.91 238.26L29.24 237.65L29.9 236.43L29.9 235.21L29.24 233.99L27.24 233.38L24.59 233.38M44.55 233.38L37.9 246.19M35.25 233.38L44.55 233.38M57.2 233.38L50.56 233.38L49.89 238.87L50.56 238.26L52.55 237.65L54.54 237.65L56.53 238.26L57.86 239.48L58.52 241.31L58.52 242.53L57.86 244.36L56.53 245.58L54.54 246.19L52.55 246.19L50.56 245.58L49.89 244.97L49.23 243.75" stroke="#000" stroke-width="1.15" fill="none" stroke-linecap="round" stroke-linejoin="round"/>
<path d="M60 312.2H70" stroke="#000" stroke-width="1.1"/>
<path d="M29.9 310.45L29.24 312.28L27.91 313.5L25.92 314.11L25.25 314.11L23.26 313.5L21.93 312.28L21.27 310.45L21.27 309.84L21.93 308.01L23.26 306.79L25.25 306.18L25.92 306.18L27.91 306.79L29.24 308.01L29.9 310.45L29.9 313.5L29.24 316.55L27.91 318.38L25.92 318.99L24.59 318.99L22.6 318.38L21.93 317.16M39.23 306.18L37.24 306.79L35.91 308.62L35.25 311.67L35.25 313.5L35.91 316.55L37.24 318.38L39.23 318.99L40.56 318.99L42.55 318.38L43.88 316.55L44.55 313.5L44.55 311.67L43.88 308.62L42.55 306.79L40.56 306.18L39.23 306.18M53.21 306.18L51.22 306.79L49.89 308.62L49.23 311.67L49.23 313.5L49.89 316.55L51.22 318.38L53.21 318.99L54.54 318.99L56.53 318.38L57.86 316.55L58.52 313.5L58.52 311.67L57.86 308.62L56.53 306.79L54.54 306.18L53.21 306.18" stroke="#000" stroke-width="1.15" fill="none" stroke-linecap="round" stroke-linejoin="round"/>
<path d="M60 383H70" stroke="#000" stroke-width="1.1"/>
<path d="M29.9 381.25L29.24 383.08L27.91 384.3L25.92 384.91L25.25 384.91L23.26 384.3L21.93 383.08L21.27 381.25L21.27 380.64L21.93 378.81L23.26 377.59L25.25 376.98L25.92 376.98L27.91 377.59L29.24 378.81L29.9 381.25L29.9 384.3L29.24 387.35L27.91 389.18L25.92 389.79L24.59 389.79L22.6 389.18L21.93 387.96M35.91 380.03L35.91 379.42L36.58 378.2L37.24 377.59L38.57 376.98L41.22 376.98L42.55 377.59L43.22 378.2L43.88 379.42L43.88 380.64L43.22 381.86L41.89 383.69L35.25 389.79L44.55 389.79M57.2 376.98L50.56 376.98L49.89 382.47L50.56 381.86L52.55 381.25L54.54 381.25L56.53 381.86L57.86 383.08L58.52 384.91L58.52 386.13L57.86 387.96L56.53 389.18L54.54 389.79L52.55 389.79L50.56 389.18L49.89 388.57L49.23 387.35" stroke="#000" stroke-width="1.15" fill="none" stroke-linecap="round" stroke-linejoin="round"/>
<path d="M60 451.9H70" stroke="#000" stroke-width="1.1"/>
<path d="M29.9 450.16L29.24 451.99L27.91 453.21L25.92 453.82L25.25 453.82L23.26 453.21L21.93 451.99L21.27 450.16L21.27 449.55L21.93 447.72L23.26 446.5L25.25 445.89L25.92 445.89L27.91 446.5L29.24 447.72L29.9 450.16L29.9 453.21L29.24 456.26L27.91 458.09L25.92 458.7L24.59 458.7L22.6 458.09L21.93 456.87M43.22 445.89L36.58 445.89L35.91 451.38L36.58 450.77L38.57 450.16L40.56 450.16L42.55 450.77L43.88 451.99L44.55 453.82L44.55 455.04L43.88 456.87L42.55 458.09L40.56 458.7L38.57 458.7L36.58 458.09L35.91 457.48L35.25 456.26M53.21 445.89L51.22 446.5L49.89 448.33L49.23 451.38L49.23 453.21L49.89 456.26L51.22 458.09L53.21 458.7L54.54 458.7L56.53 458.09L57.86 456.26L58.52 453.21L58.52 451.38L57.86 448.33L56.53 446.5L54.54 445.89L53.21 445.89" stroke="#000" stroke-width="1.15" fill="none" stroke-linecap="round" stroke-linejoin="round"/>
<path d="M60 519.1H70" stroke="#000" stroke-width="1.1"/>
<path d="M29.9 517.28L29.24 519.11L27.91 520.33L25.92 520.94L25.25 520.94L23.26 520.33L21.93 519.11L21.27 517.28L21.27 516.67L21.93 514.84L23.26 513.62L25.25 513.01L25.92 513.01L27.91 513.62L29.24 514.84L29.9 517.28L29.9 520.33L29.24 523.38L27.91 525.21L25.92 525.82L24.59 525.82L22.6 525.21L21.93 523.99M44.55 513.01L37.9 525.82M35.25 513.01L44.55 513.01M57.2 513.01L50.56 513.01L49.89 518.5L50.56 517.89L52.55 517.28L54.54 517.28L56.53 517.89L57.86 519.11L58.52 520.94L58.52 522.16L57.86 523.99L56.53 525.21L54.54 525.82L52.55 525.82L50.56 525.21L49.89 524.6L49.23 523.38" stroke="#000" stroke-width="1.15" fill="none" stroke-linecap="round" stroke-linejoin="round"/>
<path d="M60 584.5H70" stroke="#000" stroke-width="1.1"/>
<path d="M9.28 580.87L10.61 580.26L12.6 578.43L12.6 591.24M25.25 578.43L23.26 579.04L21.93 580.87L21.27 583.92L21.27 585.75L21.93 588.8L23.26 590.63L25.25 591.24L26.58 591.24L28.57 590.63L29.9 588.8L30.56 585.75L30.56 583.92L29.9 580.87L28.57 579.04L26.58 578.43L25.25 578.43M39.23 578.43L37.24 579.04L35.91 580.87L35.25 583.92L35.25 585.75L35.91 588.8L37.24 590.63L39.23 591.24L40.56 591.24L42.55 590.63L43.88 588.8L44.54 585.75L44.54 583.92L43.88 580.87L42.55 579.04L40.56 578.43L39.23 578.43M53.21 578.43L51.22 579.04L49.89 580.87L49.23 583.92L49.23 585.75L49.89 588.8L51.22 590.63L53.21 591.24L54.54 591.24L56.53 590.63L57.86 588.8L58.52 585.75L58.52 583.92L57.86 580.87L56.53 579.04L54.54 578.43L53.21 578.43" stroke="#000" stroke-width="1.15" fill="none" stroke-linecap="round" stroke-linejoin="round"/>
<path d="M60 648.3H70" stroke="#000" stroke-width="1.1"/>
<path d="M9.28 644.67L10.61 644.06L12.6 642.23L12.6 655.04M25.25 642.23L23.26 642.84L21.93 644.67L21.27 647.72L21.27 649.55L21.93 652.6L23.26 654.43L25.25 655.04L26.58 655.04L28.57 654.43L29.9 652.6L30.56 649.55L30.56 647.72L29.9 644.67L28.57 642.84L26.58 642.23L25.25 642.23M35.91 645.28L35.91 644.67L36.58 643.45L37.24 642.84L38.57 642.23L41.22 642.23L42.55 642.84L43.22 643.45L43.88 644.67L43.88 645.89L43.22 647.11L41.89 648.94L35.25 655.04L44.54 655.04M57.2 642.23L50.56 642.23L49.89 647.72L50.56 647.11L52.55 646.5L54.54 646.5L56.53 647.11L57.86 648.33L58.52 650.16L58.52 651.38L57.86 653.21L56.53 654.43L54.54 655.04L52.55 655.04L50.56 654.43L49.89 653.82L49.23 652.6" stroke="#000" stroke-width="1.15" fill="none" stroke-linecap="round" stroke-linejoin="round"/>
<path d="M70 678V683.5" stroke="#000" stroke-width="1.1"/>
<path d="M55.87 691.13L55.87 690.56L56.39 689.41L56.91 688.83L57.95 688.25L60.05 688.25L61.09 688.83L61.61 689.41L62.13 690.56L62.13 691.71L61.61 692.86L60.57 694.59L55.34 700.35L62.66 700.35M67.91 690.56L68.95 689.98L70.52 688.25L70.52 700.35M84.66 688.25L77.34 700.35M77.34 688.25L84.66 688.25M77.34 700.35L84.66 700.35" stroke="#000" stroke-width="1.3" fill="none" stroke-linecap="round" stroke-linejoin="round"/>
<path d="M49.55 710.13L49.55 709.56L50.07 708.41L50.59 707.83L51.64 707.25L53.73 707.25L54.77 707.83L55.29 708.41L55.82 709.56L55.82 710.71L55.29 711.86L54.25 713.59L49.02 719.35L56.34 719.35M60.6 707.25L60.6 719.35M60.6 707.25L64.78 719.35M68.96 707.25L64.78 719.35M68.96 707.25L68.96 719.35M76.33 707.25L72.15 719.35M76.33 707.25L80.51 719.35M73.72 715.32L78.94 715.32M83.66 707.25L83.66 719.35M83.66 707.25L88.36 707.25L89.93 707.83L90.45 708.41L90.98 709.56L90.98 710.71L90.45 711.86L89.93 712.44L88.36 713.01L83.66 713.01M87.32 713.01L90.98 719.35" stroke="#000" stroke-width="1.3" fill="none" stroke-linecap="round" stroke-linejoin="round"/>
<path d="M50.37 729.13L50.37 728.56L50.89 727.41L51.41 726.83L52.45 726.25L54.55 726.25L55.59 726.83L56.11 727.41L56.63 728.56L56.63 729.71L56.11 730.86L55.07 732.59L49.84 738.35L57.16 738.35M63.98 726.25L62.41 726.83L61.37 728.56L60.84 731.44L60.84 733.17L61.37 736.05L62.41 737.77L63.98 738.35L65.02 738.35L66.59 737.77L67.64 736.05L68.16 733.17L68.16 731.44L67.64 728.56L66.59 726.83L65.02 726.25L63.98 726.25M72.36 729.13L72.36 728.56L72.89 727.41L73.41 726.83L74.45 726.25L76.55 726.25L77.59 726.83L78.11 727.41L78.64 728.56L78.64 729.71L78.11 730.86L77.07 732.59L71.84 738.35L79.16 738.35M89.64 727.98L89.11 726.83L87.55 726.25L86.5 726.25L84.93 726.83L83.89 728.56L83.36 731.44L83.36 734.32L83.89 736.62L84.93 737.77L86.5 738.35L87.02 738.35L88.59 737.77L89.64 736.62L90.16 734.89L90.16 734.32L89.64 732.59L88.59 731.44L87.02 730.86L86.5 730.86L84.93 731.44L83.89 732.59L83.36 734.32" stroke="#000" stroke-width="1.3" fill="none" stroke-linecap="round" stroke-linejoin="round"/>
<path d="M217.3 678V683.5" stroke="#000" stroke-width="1.1"/>
<path d="M205.81 688.25L204.24 688.83L203.2 690.56L202.68 693.44L202.68 695.17L203.2 698.05L204.24 699.77L205.81 700.35L206.86 700.35L208.42 699.77L209.47 698.05L209.99 695.17L209.99 693.44L209.47 690.56L208.42 688.83L206.86 688.25L205.81 688.25M216.81 688.25L215.24 688.83L214.2 690.56L213.68 693.44L213.68 695.17L214.2 698.05L215.24 699.77L216.81 700.35L217.86 700.35L219.42 699.77L220.47 698.05L220.99 695.17L220.99 693.44L220.47 690.56L219.42 688.83L217.86 688.25L216.81 688.25M231.99 688.25L224.68 700.35M224.68 688.25L231.99 688.25M224.68 700.35L231.99 700.35" stroke="#000" stroke-width="1.3" fill="none" stroke-linecap="round" stroke-linejoin="round"/>
<path d="M197.4 707.25L203.15 707.25L200.02 711.86L201.58 711.86L202.63 712.44L203.15 713.01L203.67 714.74L203.67 715.89L203.15 717.62L202.11 718.77L200.54 719.35L198.97 719.35L197.4 718.77L196.88 718.2L196.36 717.05M207.94 707.25L207.94 719.35M207.94 707.25L212.12 719.35M216.3 707.25L212.12 719.35M216.3 707.25L216.3 719.35M223.67 707.25L219.49 719.35M223.67 707.25L227.85 719.35M221.05 715.32L226.28 715.32M230.99 707.25L230.99 719.35M230.99 707.25L235.7 707.25L237.26 707.83L237.79 708.41L238.31 709.56L238.31 710.71L237.79 711.86L237.26 712.44L235.7 713.01L230.99 713.01M234.65 713.01L238.31 719.35" stroke="#000" stroke-width="1.3" fill="none" stroke-linecap="round" stroke-linejoin="round"/>
<path d="M364.7 678V683.5" stroke="#000" stroke-width="1.1"/>
<path d="M353.14 688.25L351.58 688.83L350.53 690.56L350.01 693.44L350.01 695.17L350.53 698.05L351.58 699.77L353.14 700.35L354.19 700.35L355.76 699.77L356.8 698.05L357.32 695.17L357.32 693.44L356.8 690.56L355.76 688.83L354.19 688.25L353.14 688.25M362.05 688.25L367.8 688.25L364.67 692.86L366.23 692.86L367.28 693.44L367.8 694.01L368.32 695.74L368.32 696.89L367.8 698.62L366.76 699.77L365.19 700.35L363.62 700.35L362.05 699.77L361.53 699.2L361.01 698.05M379.32 688.25L372.01 700.35M372.01 688.25L379.32 688.25M372.01 700.35L379.32 700.35" stroke="#000" stroke-width="1.3" fill="none" stroke-linecap="round" stroke-linejoin="round"/>
<path d="M512 678V683.5" stroke="#000" stroke-width="1.1"/>
<path d="M500.48 688.25L498.91 688.83L497.87 690.56L497.34 693.44L497.34 695.17L497.87 698.05L498.91 699.77L500.48 700.35L501.52 700.35L503.09 699.77L504.13 698.05L504.66 695.17L504.66 693.44L504.13 690.56L503.09 688.83L501.52 688.25L500.48 688.25M515.13 689.98L514.61 688.83L513.04 688.25L512 688.25L510.43 688.83L509.39 690.56L508.87 693.44L508.87 696.32L509.39 698.62L510.43 699.77L512 700.35L512.52 700.35L514.09 699.77L515.13 698.62L515.66 696.89L515.66 696.32L515.13 694.59L514.09 693.44L512.52 692.86L512 692.86L510.43 693.44L509.39 694.59L508.87 696.32M526.66 688.25L519.34 700.35M519.34 688.25L526.66 688.25M519.34 700.35L526.66 700.35" stroke="#000" stroke-width="1.3" fill="none" stroke-linecap="round" stroke-linejoin="round"/>
<path d="M659.3 678V683.5" stroke="#000" stroke-width="1.1"/>
<path d="M647.81 688.25L646.24 688.83L645.2 690.56L644.68 693.44L644.68 695.17L645.2 698.05L646.24 699.77L647.81 700.35L648.86 700.35L650.42 699.77L651.47 698.05L651.99 695.17L651.99 693.44L651.47 690.56L650.42 688.83L648.86 688.25L647.81 688.25M662.47 692.29L661.95 694.01L660.9 695.17L659.33 695.74L658.81 695.74L657.24 695.17L656.2 694.01L655.68 692.29L655.68 691.71L656.2 689.98L657.24 688.83L658.81 688.25L659.33 688.25L660.9 688.83L661.95 689.98L662.47 692.29L662.47 695.17L661.95 698.05L660.9 699.77L659.33 700.35L658.29 700.35L656.72 699.77L656.2 698.62M673.99 688.25L666.68 700.35M666.68 688.25L673.99 688.25M666.68 700.35L673.99 700.35" stroke="#000" stroke-width="1.3" fill="none" stroke-linecap="round" stroke-linejoin="round"/>
<path d="M806.7 678V683.5" stroke="#000" stroke-width="1.1"/>
<path d="M792.79 690.56L793.84 689.98L795.41 688.25L795.41 700.35M802.75 691.13L802.75 690.56L803.27 689.41L803.79 688.83L804.84 688.25L806.93 688.25L807.97 688.83L808.5 689.41L809.02 690.56L809.02 691.71L808.5 692.86L807.45 694.59L802.23 700.35L809.54 700.35M820.54 688.25L813.23 700.35M813.23 688.25L820.54 688.25M813.23 700.35L820.54 700.35" stroke="#000" stroke-width="1.3" fill="none" stroke-linecap="round" stroke-linejoin="round"/>
<path d="M954 678V683.5" stroke="#000" stroke-width="1.1"/>
<path d="M940.13 690.56L941.17 689.98L942.74 688.25L942.74 700.35M955.83 688.25L950.6 688.25L950.08 693.44L950.6 692.86L952.17 692.29L953.74 692.29L955.31 692.86L956.35 694.01L956.87 695.74L956.87 696.89L956.35 698.62L955.31 699.77L953.74 700.35L952.17 700.35L950.6 699.77L950.08 699.2L949.56 698.05M967.87 688.25L960.56 700.35M960.56 688.25L967.87 688.25M960.56 700.35L967.87 700.35" stroke="#000" stroke-width="1.3" fill="none" stroke-linecap="round" stroke-linejoin="round"/>
<path d="M102.11 12.96L102.11 11.99L102.99 10.05L103.87 9.08L105.63 8.11L109.16 8.11L110.92 9.08L111.8 10.05L112.68 11.99L112.68 13.94L111.8 15.88L110.04 18.79L101.22 28.5L113.56 28.5M125.06 8.11L122.42 9.08L120.66 11.99L119.77 16.85L119.77 19.76L120.66 24.62L122.42 27.53L125.06 28.5L126.82 28.5L129.47 27.53L131.23 24.62L132.11 19.76L132.11 16.85L131.23 11.99L129.47 9.08L126.82 8.11L125.06 8.11M139.21 12.96L139.21 11.99L140.09 10.05L140.97 9.08L142.73 8.11L146.26 8.11L148.02 9.08L148.9 10.05L149.78 11.99L149.78 13.94L148.9 15.88L147.14 18.79L138.32 28.5L150.66 28.5M168.33 11.02L167.45 9.08L164.81 8.11L163.04 8.11L160.4 9.08L158.64 11.99L157.76 16.85L157.76 21.7L158.64 25.59L160.4 27.53L163.04 28.5L163.92 28.5L166.57 27.53L168.33 25.59L169.21 22.67L169.21 21.7L168.33 18.79L166.57 16.85L163.92 15.88L163.04 15.88L160.4 16.85L158.64 18.79L157.76 21.7M180.71 8.11L178.07 9.08L176.31 11.99L175.43 16.85L175.43 19.76L176.31 24.62L178.07 27.53L180.71 28.5L182.47 28.5L185.12 27.53L186.88 24.62L187.76 19.76L187.76 16.85L186.88 11.99L185.12 9.08L182.47 8.11L180.71 8.11M195.74 8.11L205.43 8.11L200.14 15.88L202.79 15.88L204.55 16.85L205.43 17.82L206.31 20.73L206.31 22.67L205.43 25.59L203.67 27.53L201.02 28.5L198.38 28.5L195.74 27.53L194.86 26.56L193.98 24.62M217.81 8.11L215.17 9.08L213.41 11.99L212.53 16.85L212.53 19.76L213.41 24.62L215.17 27.53L217.81 28.5L219.57 28.5L222.22 27.53L223.98 24.62L224.86 19.76L224.86 16.85L223.98 11.99L222.22 9.08L219.57 8.11L217.81 8.11M231.96 12.96L231.96 11.99L232.84 10.05L233.72 9.08L235.48 8.11L239.01 8.11L240.77 9.08L241.65 10.05L242.53 11.99L242.53 13.94L241.65 15.88L239.89 18.79L231.08 28.5L243.41 28.5M250.51 12.96L250.51 11.99L251.39 10.05L252.27 9.08L254.03 8.11L257.56 8.11L259.32 9.08L260.2 10.05L261.08 11.99L261.08 13.94L260.2 15.88L258.44 18.79L249.63 28.5L261.96 28.5M270.82 11.99L272.58 11.02L275.22 8.11L275.22 28.5" stroke="#000" stroke-width="1.45" fill="none" stroke-linecap="round" stroke-linejoin="round"/>
<path d="M305.03 8.11L305.03 28.5M317.36 8.11L317.36 28.5M305.03 17.82L317.36 17.82M325.41 8.11L325.41 28.5M325.41 8.11L333.34 8.11L335.98 9.08L336.86 10.05L337.74 11.99L337.74 13.94L336.86 15.88L335.98 16.85L333.34 17.82L325.41 17.82M331.57 17.82L337.74 28.5M344.88 8.11L344.88 28.5M344.88 8.11L352.81 8.11L355.46 9.08L356.34 10.05L357.22 11.99L357.22 13.94L356.34 15.88L355.46 16.85L352.81 17.82L344.88 17.82M351.05 17.82L357.22 28.5M364.36 8.11L364.36 28.5M364.36 8.11L372.29 8.11L374.94 9.08L375.82 10.05L376.7 11.99L376.7 13.94L375.82 15.88L374.94 16.85L372.29 17.82L364.36 17.82M370.53 17.82L376.7 28.5" stroke="#000" stroke-width="1.45" fill="none" stroke-linecap="round" stroke-linejoin="round"/>
<path d="M406.87 8.11L405.11 8.11L403.35 8.94L402.47 11.44L402.47 28.5M399.83 13.94L405.99 13.94M416.4 13.94L414.64 14.98L412.88 17.06L412 20.18L412 22.26L412.88 25.38L414.64 27.46L416.4 28.5L419.05 28.5L420.81 27.46L422.57 25.38L423.45 22.26L423.45 20.18L422.57 17.06L420.81 14.98L419.05 13.94L416.4 13.94M430.36 13.94L430.36 28.5M430.36 20.18L431.24 17.06L433.01 14.98L434.77 13.94L437.41 13.94M441.66 20.18L452.23 20.18L452.23 18.1L451.35 16.02L450.47 14.98L448.7 13.94L446.06 13.94L444.3 14.98L442.54 17.06L441.66 20.18L441.66 22.26L442.54 25.38L444.3 27.46L446.06 28.5L448.7 28.5L450.47 27.46L452.23 25.38M468.92 17.06L467.16 14.98L465.4 13.94L462.76 13.94L460.99 14.98L459.23 17.06L458.35 20.18L458.35 22.26L459.23 25.38L460.99 27.46L462.76 28.5L465.4 28.5L467.16 27.46L468.92 25.38M485.64 13.94L485.64 28.5M485.64 17.06L483.88 14.98L482.12 13.94L479.47 13.94L477.71 14.98L475.95 17.06L475.07 20.18L475.07 22.26L475.95 25.38L477.71 27.46L479.47 28.5L482.12 28.5L483.88 27.46L485.64 25.38M502.34 17.06L501.46 14.98L498.81 13.94L496.17 13.94L493.53 14.98L492.64 17.06L493.53 19.14L495.29 20.18L499.69 21.22L501.46 22.26L502.34 24.34L502.34 25.38L501.46 27.46L498.81 28.5L496.17 28.5L493.53 27.46L492.64 25.38M510.06 8.11L510.06 24.34L510.94 27.46L512.7 28.5L514.46 28.5M507.42 13.94L513.58 13.94" stroke="#000" stroke-width="1.45" fill="none" stroke-linecap="round" stroke-linejoin="round"/>
<path d="M536.02 13.94L539.55 28.5M543.07 13.94L539.55 28.5M543.07 13.94L546.6 28.5M550.12 13.94L546.6 28.5M556.11 8.11L556.99 8.94L557.87 8.11L556.99 7.28L556.11 8.11M556.99 13.94L556.99 28.5M564.66 13.94L564.66 28.5M564.66 18.1L567.3 14.98L569.07 13.94L571.71 13.94L573.47 14.98L574.35 18.1L574.35 28.5M591.98 8.11L591.98 28.5M591.98 17.06L590.21 14.98L588.45 13.94L585.81 13.94L584.05 14.98L582.28 17.06L581.4 20.18L581.4 22.26L582.28 25.38L584.05 27.46L585.81 28.5L588.45 28.5L590.21 27.46L591.98 25.38" stroke="#000" stroke-width="1.45" fill="none" stroke-linecap="round" stroke-linejoin="round"/>
<path d="M615.93 13.94L615.93 35.78M615.93 17.06L617.69 14.98L619.45 13.94L622.09 13.94L623.86 14.98L625.62 17.06L626.5 20.18L626.5 22.26L625.62 25.38L623.86 27.46L622.09 28.5L619.45 28.5L617.69 27.46L615.93 25.38M633.41 13.94L633.41 28.5M633.41 20.18L634.29 17.06L636.05 14.98L637.81 13.94L640.46 13.94M649.13 13.94L647.37 14.98L645.61 17.06L644.72 20.18L644.72 22.26L645.61 25.38L647.37 27.46L649.13 28.5L651.77 28.5L653.54 27.46L655.3 25.38L656.18 22.26L656.18 20.18L655.3 17.06L653.54 14.98L651.77 13.94L649.13 13.94M668.35 8.11L666.59 8.11L664.83 8.94L663.95 11.44L663.95 28.5M661.3 13.94L667.47 13.94M673.22 8.11L674.1 8.94L674.98 8.11L674.1 7.28L673.22 8.11M674.1 13.94L674.1 28.5M681.52 8.11L681.52 28.5M688.29 20.18L698.87 20.18L698.87 18.1L697.99 16.02L697.1 14.98L695.34 13.94L692.7 13.94L690.94 14.98L689.17 17.06L688.29 20.18L688.29 22.26L689.17 25.38L690.94 27.46L692.7 28.5L695.34 28.5L697.1 27.46L698.87 25.38" stroke="#000" stroke-width="1.45" fill="none" stroke-linecap="round" stroke-linejoin="round"/>
<path d="M729.79 4.23L728.03 6.17L726.27 9.08L724.51 12.96L723.62 17.82L723.62 21.7L724.51 26.56L726.27 30.44L728.03 33.35L729.79 35.3M736.68 8.11L736.68 28.5M745.49 13.94L736.68 24.34M740.2 20.18L746.37 28.5M753.21 8.11L753.21 24.34L754.09 27.46L755.86 28.5L757.62 28.5M750.57 13.94L756.74 13.94M762.63 4.23L764.39 6.17L766.15 9.08L767.91 12.96L768.79 17.82L768.79 21.7L767.91 26.56L766.15 30.44L764.39 33.35L762.63 35.3" stroke="#000" stroke-width="1.45" fill="none" stroke-linecap="round" stroke-linejoin="round"/>
<path d="M799.77 8.11L798.01 8.11L796.25 8.94L795.37 11.44L795.37 28.5M792.73 13.94L798.89 13.94M809.3 13.94L807.54 14.98L805.78 17.06L804.9 20.18L804.9 22.26L805.78 25.38L807.54 27.46L809.3 28.5L811.95 28.5L813.71 27.46L815.47 25.38L816.35 22.26L816.35 20.18L815.47 17.06L813.71 14.98L811.95 13.94L809.3 13.94M823.26 13.94L823.26 28.5M823.26 20.18L824.14 17.06L825.91 14.98L827.67 13.94L830.31 13.94" stroke="#000" stroke-width="1.45" fill="none" stroke-linecap="round" stroke-linejoin="round"/>
<path d="M851.12 8.11L851.12 28.5M863.46 8.11L851.12 21.7M855.53 16.85L863.46 28.5M870.6 8.11L870.6 28.5M870.6 8.11L878.53 8.11L881.18 9.08L882.06 10.05L882.94 11.99L882.94 13.94L882.06 15.88L881.18 16.85L878.53 17.82M870.6 17.82L878.53 17.82L881.18 18.79L882.06 19.76L882.94 21.7L882.94 24.62L882.06 26.56L881.18 27.53L878.53 28.5L870.6 28.5M902.42 12.96L901.53 11.02L899.77 9.08L898.01 8.11L894.49 8.11L892.72 9.08L890.96 11.02L890.08 12.96L889.2 15.88L889.2 20.73L890.08 23.64L890.96 25.59L892.72 27.53L894.49 28.5L898.01 28.5L899.77 27.53L901.53 25.59L902.42 23.64L902.42 20.73M898.01 20.73L902.42 20.73M909.56 8.11L909.56 28.5M909.56 8.11L917.49 8.11L920.13 9.08L921.01 10.05L921.89 11.99L921.89 13.94L921.01 15.88L920.13 16.85L917.49 17.82L909.56 17.82M915.73 17.82L921.89 28.5" stroke="#000" stroke-width="1.45" fill="none" stroke-linecap="round" stroke-linejoin="round"/>
<path d="M361.75 741.49L361.75 758.5M361.75 741.49L373.18 741.49M361.75 749.59L368.78 749.59M382.31 746.92L380.55 747.74L378.79 749.4L377.91 751.88L377.91 753.54L378.79 756.02L380.55 757.67L382.31 758.5L384.95 758.5L386.7 757.67L388.46 756.02L389.34 753.54L389.34 751.88L388.46 749.4L386.7 747.74L384.95 746.92L382.31 746.92M396.55 746.92L396.55 758.5M396.55 751.88L397.43 749.4L399.19 747.74L400.94 746.92L403.58 746.92M408.12 751.88L418.67 751.88L418.67 750.23L417.79 748.57L416.91 747.74L415.15 746.92L412.52 746.92L410.76 747.74L409 749.4L408.12 751.88L408.12 753.54L409 756.02L410.76 757.67L412.52 758.5L415.15 758.5L416.91 757.67L418.67 756.02M435.68 749.4L433.92 747.74L432.16 746.92L429.53 746.92L427.77 747.74L426.01 749.4L425.13 751.88L425.13 753.54L426.01 756.02L427.77 757.67L429.53 758.5L432.16 758.5L433.92 757.67L435.68 756.02M452.72 746.92L452.72 758.5M452.72 749.4L450.96 747.74L449.21 746.92L446.57 746.92L444.81 747.74L443.05 749.4L442.17 751.88L442.17 753.54L443.05 756.02L444.81 757.67L446.57 758.5L449.21 758.5L450.96 757.67L452.72 756.02M469.73 749.4L468.85 747.74L466.22 746.92L463.58 746.92L460.94 747.74L460.06 749.4L460.94 751.05L462.7 751.88L467.09 752.71L468.85 753.54L469.73 755.19L469.73 756.02L468.85 757.67L466.22 758.5L463.58 758.5L460.94 757.67L460.06 756.02M477.72 741.49L477.72 755.19L478.6 757.67L480.36 758.5L482.11 758.5M475.08 746.92L481.24 746.92" stroke="#000" stroke-width="2.7" fill="none" stroke-linecap="round" stroke-linejoin="round"/>
<path d="M507.7 741.49L507.7 758.5M501.55 741.49L513.85 741.49M518.16 741.49L519.04 742.27L519.92 741.49L519.04 740.71L518.16 741.49M519.04 746.92L519.04 758.5M527.33 746.92L527.33 758.5M527.33 750.23L529.97 747.74L531.72 746.92L534.36 746.92L536.12 747.74L537 750.23L537 758.5M537 750.23L539.63 747.74L541.39 746.92L544.03 746.92L545.79 747.74L546.66 750.23L546.66 758.5M554.4 751.88L564.95 751.88L564.95 750.23L564.07 748.57L563.19 747.74L561.43 746.92L558.8 746.92L557.04 747.74L555.28 749.4L554.4 751.88L554.4 753.54L555.28 756.02L557.04 757.67L558.8 758.5L561.43 758.5L563.19 757.67L564.95 756.02" stroke="#000" stroke-width="2.7" fill="none" stroke-linecap="round" stroke-linejoin="round"/>
<path d="M594 738.25L592.24 739.87L590.49 742.3L588.73 745.54L587.85 749.59L587.85 752.83L588.73 756.88L590.49 760.12L592.24 762.55L594 764.17M601.34 741.49L601.34 753.64L602.22 756.07L603.98 757.69L606.62 758.5L608.38 758.5L611.01 757.69L612.77 756.07L613.65 753.64L613.65 741.49M625.45 741.49L625.45 758.5M619.3 741.49L631.6 741.49M649.53 745.54L648.65 743.92L646.89 742.3L645.13 741.49L641.62 741.49L639.86 742.3L638.1 743.92L637.22 745.54L636.34 747.97L636.34 752.02L637.22 754.45L638.1 756.07L639.86 757.69L641.62 758.5L645.13 758.5L646.89 757.69L648.65 756.07L649.53 754.45M655.96 738.25L657.71 739.87L659.47 742.3L661.23 745.54L662.11 749.59L662.11 752.83L661.23 756.88L659.47 760.12L657.71 762.55L655.96 764.17" stroke="#000" stroke-width="2.7" fill="none" stroke-linecap="round" stroke-linejoin="round"/>
<path d="M834.01 753.91L832.93 752.84L831.86 752.3L830.24 752.3L829.16 752.84L828.09 753.91L827.55 755.51L827.55 756.59L828.09 758.19L829.16 759.26L830.24 759.8L831.86 759.8L832.93 759.26L834.01 758.19M840.79 752.3L839.72 752.84L838.64 753.91L838.1 755.51L838.1 756.59L838.64 758.19L839.72 759.26L840.79 759.8L842.41 759.8L843.49 759.26L844.56 758.19L845.1 756.59L845.1 755.51L844.56 753.91L843.49 752.84L842.41 752.3L840.79 752.3M851.91 752.3L850.83 752.84L849.76 753.91L849.22 755.51L849.22 756.59L849.76 758.19L850.83 759.26L851.91 759.8L853.52 759.8L854.6 759.26L855.68 758.19L856.21 756.59L856.21 755.51L855.68 753.91L854.6 752.84L853.52 752.3L851.91 752.3M860.61 749.3L860.61 759.8M865.08 752.3L867.24 759.8M869.39 752.3L867.24 759.8M869.39 752.3L871.54 759.8M873.69 752.3L871.54 759.8M877.84 752.3L883.76 759.8M883.76 752.3L877.84 759.8M888.69 758.8L888.16 759.3L888.69 759.8L889.23 759.3L888.69 758.8M900.11 753.91L899.04 752.84L897.96 752.3L896.35 752.3L895.27 752.84L894.19 753.91L893.65 755.51L893.65 756.59L894.19 758.19L895.27 759.26L896.35 759.8L897.96 759.8L899.04 759.26L900.11 758.19M906.9 752.3L905.82 752.84L904.75 753.91L904.21 755.51L904.21 756.59L904.75 758.19L905.82 759.26L906.9 759.8L908.51 759.8L909.59 759.26L910.67 758.19L911.2 756.59L911.2 755.51L910.67 753.91L909.59 752.84L908.51 752.3L906.9 752.3M916.12 752.3L916.12 759.8M916.12 754.44L917.73 752.84L918.81 752.3L920.42 752.3L921.5 752.84L922.04 754.44L922.04 759.8M922.04 754.44L923.65 752.84L924.73 752.3L926.34 752.3L927.42 752.84L927.96 754.44L927.96 759.8M942.09 747.3L932.41 763.3M946.54 752.3L946.54 759.8M946.54 754.44L948.15 752.84L949.23 752.3L950.84 752.3L951.92 752.84L952.46 754.44L952.46 759.8M952.46 754.44L954.07 752.84L955.15 752.3L956.76 752.3L957.84 752.84L958.38 754.44L958.38 759.8M965.98 752.3L964.91 752.84L963.83 753.91L963.29 755.51L963.29 756.59L963.83 758.19L964.91 759.26L965.98 759.8L967.6 759.8L968.68 759.26L969.75 758.19L970.29 756.59L970.29 755.51L969.75 753.91L968.68 752.84L967.6 752.3L965.98 752.3M980.87 749.3L980.87 759.8M980.87 753.91L979.79 752.84L978.71 752.3L977.1 752.3L976.02 752.84L974.95 753.91L974.41 755.51L974.41 756.59L974.95 758.19L976.02 759.26L977.1 759.8L978.71 759.8L979.79 759.26L980.87 758.19M985.5 755.51L991.96 755.51L991.96 754.44L991.42 753.37L990.88 752.84L989.81 752.3L988.19 752.3L987.11 752.84L986.04 753.91L985.5 755.51L985.5 756.59L986.04 758.19L987.11 759.26L988.19 759.8L989.81 759.8L990.88 759.26L991.96 758.19M996.33 749.3L996.33 759.8M1001.65 749.3L1001.65 757.66L1002.18 759.26L1003.26 759.8L1004.34 759.8M1000.03 752.3L1003.8 752.3M1013.63 753.91L1013.09 752.84L1011.47 752.3L1009.86 752.3L1008.24 752.84L1007.71 753.91L1008.24 754.98L1009.32 755.51L1012.01 756.05L1013.09 756.59L1013.63 757.66L1013.63 758.19L1013.09 759.26L1011.47 759.8L1009.86 759.8L1008.24 759.26L1007.71 758.19" stroke="#ff3c40" stroke-width="1.1" fill="none" stroke-linecap="round" stroke-linejoin="round"/>
<rect x="959.7" y="602.1" width="17" height="17.8" fill="#6400f0" stroke="#000" stroke-width="1.2"/>
<rect x="959.7" y="584.2" width="17" height="17.8" fill="#5000ff" stroke="#000" stroke-width="1.2"/>
<rect x="959.7" y="566.4" width="17" height="17.8" fill="#0000ff" stroke="#000" stroke-width="1.2"/>
<rect x="959.7" y="548.5" width="17" height="17.8" fill="#0040ff" stroke="#000" stroke-width="1.2"/>
<rect x="959.7" y="530.7" width="17" height="17.8" fill="#0060ff" stroke="#000" stroke-width="1.2"/>
<rect x="959.7" y="512.9" width="17" height="17.8" fill="#0080ff" stroke="#000" stroke-width="1.2"/>
<rect x="959.7" y="495" width="17" height="17.8" fill="#0096ff" stroke="#000" stroke-width="1.2"/>
<rect x="959.7" y="477.2" width="17" height="17.8" fill="#00c8f0" stroke="#000" stroke-width="1.2"/>
<rect x="959.7" y="459.3" width="17" height="17.8" fill="#00f0d0" stroke="#000" stroke-width="1.2"/>
<rect x="959.7" y="441.5" width="17" height="17.8" fill="#00f0a0" stroke="#000" stroke-width="1.2"/>
<rect x="959.7" y="423.7" width="17" height="17.8" fill="#00f080" stroke="#000" stroke-width="1.2"/>
<rect x="959.7" y="405.8" width="17" height="17.8" fill="#00f040" stroke="#000" stroke-width="1.2"/>
<rect x="959.7" y="388" width="17" height="17.8" fill="#40f000" stroke="#000" stroke-width="1.2"/>
<rect x="959.7" y="370.1" width="17" height="17.8" fill="#90ff00" stroke="#000" stroke-width="1.2"/>
<rect x="959.7" y="352.3" width="17" height="17.8" fill="#e8ff00" stroke="#000" stroke-width="1.2"/>
<rect x="959.7" y="334.5" width="17" height="17.8" fill="#fff000" stroke="#000" stroke-width="1.2"/>
<rect x="959.7" y="316.6" width="17" height="17.8" fill="#ffdd00" stroke="#000" stroke-width="1.2"/>
<rect x="959.7" y="298.8" width="17" height="17.8" fill="#ffbb00" stroke="#000" stroke-width="1.2"/>
<rect x="959.7" y="280.9" width="17" height="17.8" fill="#ff9a00" stroke="#000" stroke-width="1.2"/>
<rect x="959.7" y="263.1" width="17" height="17.8" fill="#ff8800" stroke="#000" stroke-width="1.2"/>
<rect x="959.7" y="245.3" width="17" height="17.8" fill="#ff6a00" stroke="#000" stroke-width="1.2"/>
<rect x="959.7" y="227.4" width="17" height="17.8" fill="#ff4000" stroke="#000" stroke-width="1.2"/>
<rect x="959.7" y="209.6" width="17" height="17.8" fill="#ff1000" stroke="#000" stroke-width="1.2"/>
<rect x="959.7" y="191.7" width="17" height="17.8" fill="#ff0040" stroke="#000" stroke-width="1.2"/>
<rect x="959.7" y="173.9" width="17" height="17.8" fill="#ff0060" stroke="#000" stroke-width="1.2"/>
<rect x="959.7" y="156.1" width="17" height="17.8" fill="#ff0078" stroke="#000" stroke-width="1.2"/>
<rect x="959.7" y="138.2" width="17" height="17.8" fill="#ff0090" stroke="#000" stroke-width="1.2"/>
<rect x="959.7" y="120.4" width="17" height="17.8" fill="#ff00d0" stroke="#000" stroke-width="1.2"/>
<rect x="959.7" y="102.5" width="17" height="17.8" fill="#ff00ff" stroke="#000" stroke-width="1.2"/>
<polygon points="959.7,619.9 976.7,619.9 968.2,637.5" fill="#8000f0" stroke="#000" stroke-width="1.2"/>
<polygon points="959.7,102.5 976.7,102.5 968.2,84.8" fill="#000" stroke="#000" stroke-width="1.2"/>
<path d="M988.21 614.81L983.04 614.81L982.52 619.22L983.04 618.73L984.59 618.24L986.14 618.24L987.7 618.73L988.73 619.71L989.25 621.18L989.25 622.16L988.73 623.63L987.7 624.61L986.14 625.1L984.59 625.1L983.04 624.61L982.52 624.12L982 623.14" stroke="#000" stroke-width="1.15" fill="none" stroke-linecap="round" stroke-linejoin="round"/>
<path d="M983.55 598.93L984.59 598.44L986.14 596.97L986.14 607.26M995.16 596.97L993.6 597.46L992.57 598.93L992.05 601.38L992.05 602.85L992.57 605.3L993.6 606.77L995.16 607.26L996.19 607.26L997.75 606.77L998.78 605.3L999.3 602.85L999.3 601.38L998.78 598.93L997.75 597.46L996.19 596.97L995.16 596.97" stroke="#000" stroke-width="1.15" fill="none" stroke-linecap="round" stroke-linejoin="round"/>
<path d="M983.55 581.09L984.59 580.6L986.14 579.13L986.14 589.42M998.26 579.13L993.09 579.13L992.57 583.54L993.09 583.05L994.64 582.56L996.19 582.56L997.75 583.05L998.78 584.03L999.3 585.5L999.3 586.48L998.78 587.95L997.75 588.93L996.19 589.42L994.64 589.42L993.09 588.93L992.57 588.44L992.05 587.46" stroke="#000" stroke-width="1.15" fill="none" stroke-linecap="round" stroke-linejoin="round"/>
<path d="M982.52 563.74L982.52 563.25L983.04 562.27L983.55 561.78L984.59 561.29L986.66 561.29L987.7 561.78L988.21 562.27L988.73 563.25L988.73 564.23L988.21 565.21L987.18 566.68L982 571.58L989.25 571.58M995.16 561.29L993.6 561.78L992.57 563.25L992.05 565.7L992.05 567.17L992.57 569.62L993.6 571.09L995.16 571.58L996.19 571.58L997.75 571.09L998.78 569.62L999.3 567.17L999.3 565.7L998.78 563.25L997.75 561.78L996.19 561.29L995.16 561.29" stroke="#000" stroke-width="1.15" fill="none" stroke-linecap="round" stroke-linejoin="round"/>
<path d="M982.52 545.9L982.52 545.41L983.04 544.43L983.55 543.94L984.59 543.45L986.66 543.45L987.7 543.94L988.21 544.43L988.73 545.41L988.73 546.39L988.21 547.37L987.18 548.84L982 553.74L989.25 553.74M998.26 543.45L993.09 543.45L992.57 547.86L993.09 547.37L994.64 546.88L996.19 546.88L997.75 547.37L998.78 548.35L999.3 549.82L999.3 550.8L998.78 552.27L997.75 553.25L996.19 553.74L994.64 553.74L993.09 553.25L992.57 552.76L992.05 551.78" stroke="#000" stroke-width="1.15" fill="none" stroke-linecap="round" stroke-linejoin="round"/>
<path d="M983.04 525.61L988.73 525.61L985.62 529.53L987.18 529.53L988.21 530.02L988.73 530.51L989.25 531.98L989.25 532.96L988.73 534.43L987.7 535.41L986.14 535.9L984.59 535.9L983.04 535.41L982.52 534.92L982 533.94M995.16 525.61L993.6 526.1L992.57 527.57L992.05 530.02L992.05 531.49L992.57 533.94L993.6 535.41L995.16 535.9L996.19 535.9L997.75 535.41L998.78 533.94L999.3 531.49L999.3 530.02L998.78 527.57L997.75 526.1L996.19 525.61L995.16 525.61" stroke="#000" stroke-width="1.15" fill="none" stroke-linecap="round" stroke-linejoin="round"/>
<path d="M983.04 507.77L988.73 507.77L985.62 511.69L987.18 511.69L988.21 512.18L988.73 512.67L989.25 514.14L989.25 515.12L988.73 516.59L987.7 517.57L986.14 518.06L984.59 518.06L983.04 517.57L982.52 517.08L982 516.1M998.26 507.77L993.09 507.77L992.57 512.18L993.09 511.69L994.64 511.2L996.19 511.2L997.75 511.69L998.78 512.67L999.3 514.14L999.3 515.12L998.78 516.59L997.75 517.57L996.19 518.06L994.64 518.06L993.09 517.57L992.57 517.08L992.05 516.1" stroke="#000" stroke-width="1.15" fill="none" stroke-linecap="round" stroke-linejoin="round"/>
<path d="M987.18 489.93L982 496.79L989.77 496.79M987.18 489.93L987.18 500.22M995.16 489.93L993.6 490.42L992.57 491.89L992.05 494.34L992.05 495.81L992.57 498.26L993.6 499.73L995.16 500.22L996.19 500.22L997.75 499.73L998.78 498.26L999.3 495.81L999.3 494.34L998.78 491.89L997.75 490.42L996.19 489.93L995.16 489.93" stroke="#000" stroke-width="1.15" fill="none" stroke-linecap="round" stroke-linejoin="round"/>
<path d="M987.18 472.09L982 478.95L989.77 478.95M987.18 472.09L987.18 482.38M998.26 472.09L993.09 472.09L992.57 476.5L993.09 476.01L994.64 475.52L996.19 475.52L997.75 476.01L998.78 476.99L999.3 478.46L999.3 479.44L998.78 480.91L997.75 481.89L996.19 482.38L994.64 482.38L993.09 481.89L992.57 481.4L992.05 480.42" stroke="#000" stroke-width="1.15" fill="none" stroke-linecap="round" stroke-linejoin="round"/>
<path d="M988.21 454.25L983.04 454.25L982.52 458.66L983.04 458.17L984.59 457.68L986.14 457.68L987.7 458.17L988.73 459.15L989.25 460.62L989.25 461.6L988.73 463.07L987.7 464.05L986.14 464.54L984.59 464.54L983.04 464.05L982.52 463.56L982 462.58M995.16 454.25L993.6 454.74L992.57 456.21L992.05 458.66L992.05 460.13L992.57 462.58L993.6 464.05L995.16 464.54L996.19 464.54L997.75 464.05L998.78 462.58L999.3 460.13L999.3 458.66L998.78 456.21L997.75 454.74L996.19 454.25L995.16 454.25" stroke="#000" stroke-width="1.15" fill="none" stroke-linecap="round" stroke-linejoin="round"/>
<path d="M988.21 436.41L983.04 436.41L982.52 440.82L983.04 440.33L984.59 439.84L986.14 439.84L987.7 440.33L988.73 441.31L989.25 442.78L989.25 443.76L988.73 445.23L987.7 446.21L986.14 446.7L984.59 446.7L983.04 446.21L982.52 445.72L982 444.74M998.26 436.41L993.09 436.41L992.57 440.82L993.09 440.33L994.64 439.84L996.19 439.84L997.75 440.33L998.78 441.31L999.3 442.78L999.3 443.76L998.78 445.23L997.75 446.21L996.19 446.7L994.64 446.7L993.09 446.21L992.57 445.72L992.05 444.74" stroke="#000" stroke-width="1.15" fill="none" stroke-linecap="round" stroke-linejoin="round"/>
<path d="M988.73 420.04L988.21 419.06L986.66 418.57L985.62 418.57L984.07 419.06L983.04 420.53L982.52 422.98L982.52 425.43L983.04 427.39L984.07 428.37L985.62 428.86L986.14 428.86L987.7 428.37L988.73 427.39L989.25 425.92L989.25 425.43L988.73 423.96L987.7 422.98L986.14 422.49L985.62 422.49L984.07 422.98L983.04 423.96L982.52 425.43M995.16 418.57L993.6 419.06L992.57 420.53L992.05 422.98L992.05 424.45L992.57 426.9L993.6 428.37L995.16 428.86L996.19 428.86L997.75 428.37L998.78 426.9L999.3 424.45L999.3 422.98L998.78 420.53L997.75 419.06L996.19 418.57L995.16 418.57" stroke="#000" stroke-width="1.15" fill="none" stroke-linecap="round" stroke-linejoin="round"/>
<path d="M988.73 402.2L988.21 401.22L986.66 400.73L985.62 400.73L984.07 401.22L983.04 402.69L982.52 405.14L982.52 407.59L983.04 409.55L984.07 410.53L985.62 411.02L986.14 411.02L987.7 410.53L988.73 409.55L989.25 408.08L989.25 407.59L988.73 406.12L987.7 405.14L986.14 404.65L985.62 404.65L984.07 405.14L983.04 406.12L982.52 407.59M998.26 400.73L993.09 400.73L992.57 405.14L993.09 404.65L994.64 404.16L996.19 404.16L997.75 404.65L998.78 405.63L999.3 407.1L999.3 408.08L998.78 409.55L997.75 410.53L996.19 411.02L994.64 411.02L993.09 410.53L992.57 410.04L992.05 409.06" stroke="#000" stroke-width="1.15" fill="none" stroke-linecap="round" stroke-linejoin="round"/>
<path d="M989.25 382.89L984.07 393.18M982 382.89L989.25 382.89M995.16 382.89L993.6 383.38L992.57 384.85L992.05 387.3L992.05 388.77L992.57 391.22L993.6 392.69L995.16 393.18L996.19 393.18L997.75 392.69L998.78 391.22L999.3 388.77L999.3 387.3L998.78 384.85L997.75 383.38L996.19 382.89L995.16 382.89" stroke="#000" stroke-width="1.15" fill="none" stroke-linecap="round" stroke-linejoin="round"/>
<path d="M989.25 365.05L984.07 375.34M982 365.05L989.25 365.05M998.26 365.05L993.09 365.05L992.57 369.46L993.09 368.97L994.64 368.48L996.19 368.48L997.75 368.97L998.78 369.95L999.3 371.42L999.3 372.4L998.78 373.87L997.75 374.85L996.19 375.34L994.64 375.34L993.09 374.85L992.57 374.36L992.05 373.38" stroke="#000" stroke-width="1.15" fill="none" stroke-linecap="round" stroke-linejoin="round"/>
<path d="M984.59 347.21L983.04 347.7L982.52 348.68L982.52 349.66L983.04 350.64L984.07 351.13L986.14 351.62L987.7 352.11L988.73 353.09L989.25 354.07L989.25 355.54L988.73 356.52L988.21 357.01L986.66 357.5L984.59 357.5L983.04 357.01L982.52 356.52L982 355.54L982 354.07L982.52 353.09L983.55 352.11L985.11 351.62L987.18 351.13L988.21 350.64L988.73 349.66L988.73 348.68L988.21 347.7L986.66 347.21L984.59 347.21M995.16 347.21L993.6 347.7L992.57 349.17L992.05 351.62L992.05 353.09L992.57 355.54L993.6 357.01L995.16 357.5L996.19 357.5L997.75 357.01L998.78 355.54L999.3 353.09L999.3 351.62L998.78 349.17L997.75 347.7L996.19 347.21L995.16 347.21" stroke="#000" stroke-width="1.15" fill="none" stroke-linecap="round" stroke-linejoin="round"/>
<path d="M984.59 329.37L983.04 329.86L982.52 330.84L982.52 331.82L983.04 332.8L984.07 333.29L986.14 333.78L987.7 334.27L988.73 335.25L989.25 336.23L989.25 337.7L988.73 338.68L988.21 339.17L986.66 339.66L984.59 339.66L983.04 339.17L982.52 338.68L982 337.7L982 336.23L982.52 335.25L983.55 334.27L985.11 333.78L987.18 333.29L988.21 332.8L988.73 331.82L988.73 330.84L988.21 329.86L986.66 329.37L984.59 329.37M998.26 329.37L993.09 329.37L992.57 333.78L993.09 333.29L994.64 332.8L996.19 332.8L997.75 333.29L998.78 334.27L999.3 335.74L999.3 336.72L998.78 338.19L997.75 339.17L996.19 339.66L994.64 339.66L993.09 339.17L992.57 338.68L992.05 337.7" stroke="#000" stroke-width="1.15" fill="none" stroke-linecap="round" stroke-linejoin="round"/>
<path d="M988.73 314.96L988.21 316.43L987.18 317.41L985.62 317.9L985.11 317.9L983.55 317.41L982.52 316.43L982 314.96L982 314.47L982.52 313L983.55 312.02L985.11 311.53L985.62 311.53L987.18 312.02L988.21 313L988.73 314.96L988.73 317.41L988.21 319.86L987.18 321.33L985.62 321.82L984.59 321.82L983.04 321.33L982.52 320.35M995.16 311.53L993.6 312.02L992.57 313.49L992.05 315.94L992.05 317.41L992.57 319.86L993.6 321.33L995.16 321.82L996.19 321.82L997.75 321.33L998.78 319.86L999.3 317.41L999.3 315.94L998.78 313.49L997.75 312.02L996.19 311.53L995.16 311.53" stroke="#000" stroke-width="1.15" fill="none" stroke-linecap="round" stroke-linejoin="round"/>
<path d="M988.73 297.12L988.21 298.59L987.18 299.57L985.62 300.06L985.11 300.06L983.55 299.57L982.52 298.59L982 297.12L982 296.63L982.52 295.16L983.55 294.18L985.11 293.69L985.62 293.69L987.18 294.18L988.21 295.16L988.73 297.12L988.73 299.57L988.21 302.02L987.18 303.49L985.62 303.98L984.59 303.98L983.04 303.49L982.52 302.51M998.26 293.69L993.09 293.69L992.57 298.1L993.09 297.61L994.64 297.12L996.19 297.12L997.75 297.61L998.78 298.59L999.3 300.06L999.3 301.04L998.78 302.51L997.75 303.49L996.19 303.98L994.64 303.98L993.09 303.49L992.57 303L992.05 302.02" stroke="#000" stroke-width="1.15" fill="none" stroke-linecap="round" stroke-linejoin="round"/>
<path d="M983.55 277.81L984.59 277.32L986.14 275.85L986.14 286.14M995.16 275.85L993.6 276.34L992.57 277.81L992.05 280.26L992.05 281.73L992.57 284.18L993.6 285.65L995.16 286.14L996.19 286.14L997.75 285.65L998.78 284.18L999.3 281.73L999.3 280.26L998.78 277.81L997.75 276.34L996.19 275.85L995.16 275.85M1005.21 275.85L1003.65 276.34L1002.62 277.81L1002.1 280.26L1002.1 281.73L1002.62 284.18L1003.65 285.65L1005.21 286.14L1006.24 286.14L1007.8 285.65L1008.83 284.18L1009.35 281.73L1009.35 280.26L1008.83 277.81L1007.8 276.34L1006.24 275.85L1005.21 275.85" stroke="#000" stroke-width="1.15" fill="none" stroke-linecap="round" stroke-linejoin="round"/>
<path d="M983.55 259.97L984.59 259.48L986.14 258.01L986.14 268.3M995.16 258.01L993.6 258.5L992.57 259.97L992.05 262.42L992.05 263.89L992.57 266.34L993.6 267.81L995.16 268.3L996.19 268.3L997.75 267.81L998.78 266.34L999.3 263.89L999.3 262.42L998.78 259.97L997.75 258.5L996.19 258.01L995.16 258.01M1008.31 258.01L1003.14 258.01L1002.62 262.42L1003.14 261.93L1004.69 261.44L1006.24 261.44L1007.8 261.93L1008.83 262.91L1009.35 264.38L1009.35 265.36L1008.83 266.83L1007.8 267.81L1006.24 268.3L1004.69 268.3L1003.14 267.81L1002.62 267.32L1002.1 266.34" stroke="#000" stroke-width="1.15" fill="none" stroke-linecap="round" stroke-linejoin="round"/>
<path d="M983.55 242.13L984.59 241.64L986.14 240.17L986.14 250.46M993.6 242.13L994.64 241.64L996.19 240.17L996.19 250.46M1005.21 240.17L1003.65 240.66L1002.62 242.13L1002.1 244.58L1002.1 246.05L1002.62 248.5L1003.65 249.97L1005.21 250.46L1006.24 250.46L1007.8 249.97L1008.83 248.5L1009.35 246.05L1009.35 244.58L1008.83 242.13L1007.8 240.66L1006.24 240.17L1005.21 240.17" stroke="#000" stroke-width="1.15" fill="none" stroke-linecap="round" stroke-linejoin="round"/>
<path d="M983.55 224.29L984.59 223.8L986.14 222.33L986.14 232.62M993.6 224.29L994.64 223.8L996.19 222.33L996.19 232.62M1008.31 222.33L1003.14 222.33L1002.62 226.74L1003.14 226.25L1004.69 225.76L1006.24 225.76L1007.8 226.25L1008.83 227.23L1009.35 228.7L1009.35 229.68L1008.83 231.15L1007.8 232.13L1006.24 232.62L1004.69 232.62L1003.14 232.13L1002.62 231.64L1002.1 230.66" stroke="#000" stroke-width="1.15" fill="none" stroke-linecap="round" stroke-linejoin="round"/>
<path d="M983.55 206.45L984.59 205.96L986.14 204.49L986.14 214.78M992.57 206.94L992.57 206.45L993.09 205.47L993.6 204.98L994.64 204.49L996.71 204.49L997.75 204.98L998.26 205.47L998.78 206.45L998.78 207.43L998.26 208.41L997.23 209.88L992.05 214.78L999.3 214.78M1005.21 204.49L1003.65 204.98L1002.62 206.45L1002.1 208.9L1002.1 210.37L1002.62 212.82L1003.65 214.29L1005.21 214.78L1006.24 214.78L1007.8 214.29L1008.83 212.82L1009.35 210.37L1009.35 208.9L1008.83 206.45L1007.8 204.98L1006.24 204.49L1005.21 204.49" stroke="#000" stroke-width="1.15" fill="none" stroke-linecap="round" stroke-linejoin="round"/>
<path d="M983.55 188.61L984.59 188.12L986.14 186.65L986.14 196.94M992.57 189.1L992.57 188.61L993.09 187.63L993.6 187.14L994.64 186.65L996.71 186.65L997.75 187.14L998.26 187.63L998.78 188.61L998.78 189.59L998.26 190.57L997.23 192.04L992.05 196.94L999.3 196.94M1008.31 186.65L1003.14 186.65L1002.62 191.06L1003.14 190.57L1004.69 190.08L1006.24 190.08L1007.8 190.57L1008.83 191.55L1009.35 193.02L1009.35 194L1008.83 195.47L1007.8 196.45L1006.24 196.94L1004.69 196.94L1003.14 196.45L1002.62 195.96L1002.1 194.98" stroke="#000" stroke-width="1.15" fill="none" stroke-linecap="round" stroke-linejoin="round"/>
<path d="M983.55 170.77L984.59 170.28L986.14 168.81L986.14 179.1M993.09 168.81L998.78 168.81L995.67 172.73L997.23 172.73L998.26 173.22L998.78 173.71L999.3 175.18L999.3 176.16L998.78 177.63L997.75 178.61L996.19 179.1L994.64 179.1L993.09 178.61L992.57 178.12L992.05 177.14M1005.21 168.81L1003.65 169.3L1002.62 170.77L1002.1 173.22L1002.1 174.69L1002.62 177.14L1003.65 178.61L1005.21 179.1L1006.24 179.1L1007.8 178.61L1008.83 177.14L1009.35 174.69L1009.35 173.22L1008.83 170.77L1007.8 169.3L1006.24 168.81L1005.21 168.81" stroke="#000" stroke-width="1.15" fill="none" stroke-linecap="round" stroke-linejoin="round"/>
<path d="M983.55 152.93L984.59 152.44L986.14 150.97L986.14 161.26M993.09 150.97L998.78 150.97L995.67 154.89L997.23 154.89L998.26 155.38L998.78 155.87L999.3 157.34L999.3 158.32L998.78 159.79L997.75 160.77L996.19 161.26L994.64 161.26L993.09 160.77L992.57 160.28L992.05 159.3M1008.31 150.97L1003.14 150.97L1002.62 155.38L1003.14 154.89L1004.69 154.4L1006.24 154.4L1007.8 154.89L1008.83 155.87L1009.35 157.34L1009.35 158.32L1008.83 159.79L1007.8 160.77L1006.24 161.26L1004.69 161.26L1003.14 160.77L1002.62 160.28L1002.1 159.3" stroke="#000" stroke-width="1.15" fill="none" stroke-linecap="round" stroke-linejoin="round"/>
<path d="M983.55 135.09L984.59 134.6L986.14 133.13L986.14 143.42M997.23 133.13L992.05 139.99L999.82 139.99M997.23 133.13L997.23 143.42M1005.21 133.13L1003.65 133.62L1002.62 135.09L1002.1 137.54L1002.1 139.01L1002.62 141.46L1003.65 142.93L1005.21 143.42L1006.24 143.42L1007.8 142.93L1008.83 141.46L1009.35 139.01L1009.35 137.54L1008.83 135.09L1007.8 133.62L1006.24 133.13L1005.21 133.13" stroke="#000" stroke-width="1.15" fill="none" stroke-linecap="round" stroke-linejoin="round"/>
<path d="M983.55 117.25L984.59 116.76L986.14 115.29L986.14 125.58M997.23 115.29L992.05 122.15L999.82 122.15M997.23 115.29L997.23 125.58M1008.31 115.29L1003.14 115.29L1002.62 119.7L1003.14 119.21L1004.69 118.72L1006.24 118.72L1007.8 119.21L1008.83 120.19L1009.35 121.66L1009.35 122.64L1008.83 124.11L1007.8 125.09L1006.24 125.58L1004.69 125.58L1003.14 125.09L1002.62 124.6L1002.1 123.62" stroke="#000" stroke-width="1.15" fill="none" stroke-linecap="round" stroke-linejoin="round"/>
<path d="M983.55 99.41L984.59 98.92L986.14 97.45L986.14 107.74M998.26 97.45L993.09 97.45L992.57 101.86L993.09 101.37L994.64 100.88L996.19 100.88L997.75 101.37L998.78 102.35L999.3 103.82L999.3 104.8L998.78 106.27L997.75 107.25L996.19 107.74L994.64 107.74L993.09 107.25L992.57 106.76L992.05 105.78M1005.21 97.45L1003.65 97.94L1002.62 99.41L1002.1 101.86L1002.1 103.33L1002.62 105.78L1003.65 107.25L1005.21 107.74L1006.24 107.74L1007.8 107.25L1008.83 105.78L1009.35 103.33L1009.35 101.86L1008.83 99.41L1007.8 97.94L1006.24 97.45L1005.21 97.45" stroke="#000" stroke-width="1.15" fill="none" stroke-linecap="round" stroke-linejoin="round"/>
</svg></body></html>
